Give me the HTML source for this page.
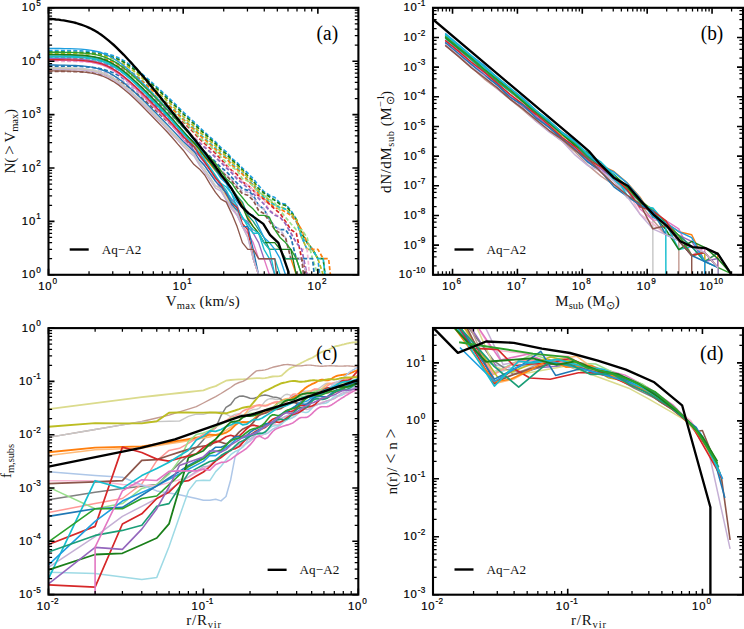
<!DOCTYPE html><html><head><meta charset="utf-8"><style>html,body{margin:0;padding:0;background:#fff;overflow:hidden}svg{display:block}.tk{font-family:"Liberation Sans",sans-serif;font-size:11.3px;letter-spacing:0.9px;fill:#000;stroke:#000;stroke-width:0.2px}.sup{font-size:8.2px;letter-spacing:0.2px}.lab{font-family:"Liberation Serif",serif;font-size:15px;fill:#111}.sub{font-size:10.5px}.pl{font-family:"Liberation Serif",serif;font-size:20.5px;fill:#000}.lg{font-family:"Liberation Serif",serif;font-size:13.2px;fill:#111}</style></head><body>
<svg width="744" height="629" viewBox="0 0 744 629">
<rect width="744" height="629" fill="#fff"/>
<defs>
<clipPath id="ca"><rect x="48.50" y="7.80" width="309.90" height="267.00"/></clipPath>
<clipPath id="cb"><rect x="433.00" y="7.80" width="310.00" height="267.00"/></clipPath>
<clipPath id="cc"><rect x="48.50" y="328.10" width="309.80" height="266.50"/></clipPath>
<clipPath id="cd"><rect x="433.00" y="328.00" width="310.00" height="266.70"/></clipPath>
</defs>
<g clip-path="url(#ca)">
<path d="M48.5 50.5L53.9 50.6L59.3 50.6L64.7 50.6L70.0 50.7L75.4 50.7L80.8 50.9L86.2 51.1L91.6 51.4L97.0 52.0L102.4 52.8L107.8 54.0L113.1 55.6L118.5 57.9L123.9 60.7L129.3 64.1L134.7 68.0L140.1 72.3L145.5 76.9L150.9 81.6L156.2 86.5L161.6 91.4L167.0 96.4L172.4 101.4L177.8 106.7L183.2 112.0L188.6 117.1L194.0 121.9L199.3 127.3L204.7 132.2L210.1 137.2L215.5 141.9L220.9 147.6L226.3 151.8L231.7 158.3L237.1 162.6L242.4 168.2L247.8 173.2L253.2 178.7L258.6 185.5L264.0 191.7L269.4 195.2L274.8 197.5L280.1 203.1L285.5 204.2L290.9 210.5L296.3 219.2L301.7 237.5L307.1 249.3L312.5 249.3L317.9 258.7L323.2 306.8" stroke="#1f9fe0" stroke-width="1.7" fill="none" stroke-dasharray="4,2.2" stroke-linejoin="round"/>
<path d="M48.5 52.1L53.9 52.2L59.3 52.2L64.7 52.2L70.0 52.3L75.4 52.3L80.8 52.5L86.2 52.7L91.6 53.0L97.0 53.6L102.4 54.4L107.8 55.6L113.1 57.2L118.5 59.5L123.9 62.3L129.3 65.8L134.7 69.7L140.1 74.0L145.5 78.6L150.9 83.3L156.2 88.2L161.6 93.2L167.0 98.2L172.4 103.3L177.8 108.5L183.2 114.0L188.6 119.1L194.0 123.8L199.3 129.3L204.7 133.9L210.1 139.0L215.5 143.6L220.9 149.6L226.3 154.0L231.7 160.0L237.1 164.4L242.4 169.9L247.8 175.9L253.2 181.0L258.6 188.7L264.0 193.0L269.4 196.7L274.8 200.2L280.1 204.2L285.5 205.3L290.9 212.0L296.3 219.2L301.7 233.2L307.1 242.6L312.5 249.3L317.9 258.7L323.2 258.7L328.6 306.8" stroke="#1a7f1a" stroke-width="1.7" fill="none" stroke-dasharray="4,2.2" stroke-linejoin="round"/>
<path d="M48.5 53.2L53.9 53.2L59.3 53.3L64.7 53.3L70.0 53.3L75.4 53.4L80.8 53.6L86.2 53.8L91.6 54.2L97.0 54.8L102.4 55.7L107.8 57.0L113.1 58.8L118.5 61.3L123.9 64.3L129.3 67.8L134.7 71.9L140.1 76.3L145.5 80.9L150.9 85.7L156.2 90.7L161.6 95.7L167.0 100.7L172.4 105.8L177.8 111.1L183.2 116.5L188.6 121.6L194.0 126.4L199.3 131.8L204.7 136.3L210.1 141.2L215.5 145.8L220.9 152.0L226.3 156.0L231.7 161.9L237.1 166.2L242.4 171.2L247.8 177.6L253.2 182.7L258.6 191.1L264.0 195.9L269.4 200.2L274.8 205.3L280.1 206.5L285.5 209.1L290.9 213.6L296.3 219.2L301.7 237.5L307.1 249.3L312.5 249.3L317.9 258.7L323.2 274.8L328.6 306.8" stroke="#bcbd22" stroke-width="1.7" fill="none" stroke-dasharray="4,2.2" stroke-linejoin="round"/>
<path d="M48.5 55.9L53.9 55.9L59.3 55.9L64.7 56.0L70.0 56.0L75.4 56.1L80.8 56.3L86.2 56.5L91.6 56.9L97.0 57.5L102.4 58.4L107.8 59.7L113.1 61.5L118.5 63.9L123.9 66.9L129.3 70.5L134.7 74.5L140.1 78.9L145.5 83.5L150.9 88.3L156.2 93.2L161.6 98.2L167.0 103.2L172.4 108.3L177.8 113.4L183.2 118.9L188.6 123.9L194.0 128.6L199.3 134.1L204.7 138.4L210.1 143.5L215.5 148.1L220.9 154.1L226.3 157.7L231.7 164.2L237.1 168.2L242.4 173.5L247.8 180.2L253.2 184.5L258.6 193.0L264.0 197.5L269.4 202.1L274.8 205.3L280.1 207.8L285.5 209.1L290.9 215.3L296.3 221.4L301.7 237.5L307.1 242.6L312.5 249.3L317.9 258.7L323.2 258.7L328.6 306.8" stroke="#17becf" stroke-width="1.7" fill="none" stroke-dasharray="4,2.2" stroke-linejoin="round"/>
<path d="M48.5 56.4L53.9 56.4L59.3 56.5L64.7 56.5L70.0 56.6L75.4 56.6L80.8 56.8L86.2 57.0L91.6 57.4L97.0 58.0L102.4 58.9L107.8 60.2L113.1 62.0L118.5 64.5L123.9 67.5L129.3 71.1L134.7 75.1L140.1 79.5L145.5 84.1L150.9 89.0L156.2 93.9L161.6 98.9L167.0 103.9L172.4 109.0L177.8 114.2L183.2 119.7L188.6 124.8L194.0 129.7L199.3 135.2L204.7 139.5L210.1 144.5L215.5 149.3L220.9 155.0L226.3 158.4L231.7 165.0L237.1 169.4L242.4 174.1L247.8 181.0L253.2 185.5L258.6 194.4L264.0 199.2L269.4 203.1L274.8 207.8L280.1 209.1L285.5 212.0L290.9 215.3L296.3 221.4L301.7 229.7L307.1 242.6L312.5 249.3L317.9 249.3L323.2 258.7L328.6 258.7L334.0 306.8" stroke="#ff7f0e" stroke-width="1.7" fill="none" stroke-dasharray="4,2.2" stroke-linejoin="round"/>
<path d="M48.5 58.0L53.9 58.0L59.3 58.1L64.7 58.1L70.0 58.2L75.4 58.3L80.8 58.5L86.2 58.7L91.6 59.2L97.0 59.8L102.4 60.8L107.8 62.2L113.1 64.2L118.5 66.8L123.9 69.9L129.3 73.6L134.7 77.8L140.1 82.2L145.5 86.9L150.9 91.8L156.2 96.7L161.6 101.7L167.0 106.8L172.4 111.9L177.8 117.3L183.2 122.1L188.6 127.4L194.0 132.7L199.3 138.7L204.7 143.7L210.1 148.4L215.5 153.4L220.9 159.1L226.3 165.4L231.7 170.4L237.1 174.4L242.4 181.9L247.8 185.0L253.2 190.4L258.6 195.9L264.0 199.2L269.4 204.2L274.8 209.1L280.1 213.6L285.5 221.4L290.9 229.7L296.3 233.2L301.7 258.7L307.1 274.8L312.5 306.8" stroke="#d62728" stroke-width="1.7" fill="none" stroke-dasharray="4,2.2" stroke-linejoin="round"/>
<path d="M48.5 59.1L53.9 59.1L59.3 59.1L64.7 59.2L70.0 59.2L75.4 59.3L80.8 59.5L86.2 59.8L91.6 60.2L97.0 60.8L102.4 61.8L107.8 63.2L113.1 65.1L118.5 67.5L123.9 70.6L129.3 74.2L134.7 78.2L140.1 82.5L145.5 87.0L150.9 91.7L156.2 96.5L161.6 101.4L167.0 106.2L172.4 111.2L177.8 116.4L183.2 121.0L188.6 126.1L194.0 131.1L199.3 137.3L204.7 142.0L210.1 145.8L215.5 151.2L220.9 157.0L226.3 162.3L231.7 167.1L237.1 170.4L242.4 178.7L247.8 181.0L253.2 186.5L258.6 192.3L264.0 195.2L269.4 199.2L274.8 203.1L280.1 210.5L285.5 217.2L290.9 223.8L296.3 229.7L301.7 229.7L307.1 237.5L312.5 258.7L317.9 274.8L323.2 306.8" stroke="#98df8a" stroke-width="1.7" fill="none" stroke-dasharray="4,2.2" stroke-linejoin="round"/>
<path d="M48.5 61.2L53.9 61.2L59.3 61.3L64.7 61.3L70.0 61.4L75.4 61.5L80.8 61.7L86.2 61.9L91.6 62.4L97.0 63.0L102.4 64.0L107.8 65.5L113.1 67.4L118.5 70.0L123.9 73.2L129.3 77.0L134.7 81.1L140.1 85.6L145.5 90.4L150.9 95.3L156.2 100.3L161.6 105.3L167.0 110.4L172.4 115.5L177.8 120.5L183.2 126.4L188.6 132.0L194.0 137.1L199.3 141.5L204.7 146.3L210.1 150.9L215.5 156.2L220.9 161.0L226.3 166.0L231.7 171.0L237.1 177.3L242.4 181.9L247.8 185.0L253.2 189.8L258.6 196.7L264.0 200.2L269.4 210.5L274.8 213.6L280.1 217.2L285.5 223.8L290.9 233.2L296.3 242.6L301.7 249.3L307.1 249.3L312.5 306.8" stroke="#f7b6d2" stroke-width="1.7" fill="none" stroke-dasharray="4,2.2" stroke-linejoin="round"/>
<path d="M48.5 60.2L53.9 60.2L59.3 60.2L64.7 60.3L70.0 60.3L75.4 60.5L80.8 60.7L86.2 61.0L91.6 61.5L97.0 62.2L102.4 63.3L107.8 64.9L113.1 67.1L118.5 69.8L123.9 73.2L129.3 77.1L134.7 81.4L140.1 86.1L145.5 90.9L150.9 95.9L156.2 101.0L161.6 106.1L167.0 111.3L172.4 116.5L177.8 121.5L183.2 127.4L188.6 133.0L194.0 138.2L199.3 142.7L204.7 147.5L210.1 152.0L215.5 157.5L220.9 162.5L226.3 167.8L231.7 172.9L237.1 179.1L242.4 183.2L247.8 188.1L253.2 193.7L258.6 198.4L264.0 204.2L269.4 210.5L274.8 215.3L280.1 217.2L285.5 223.8L290.9 233.2L296.3 242.6L301.7 249.3L307.1 274.8L312.5 306.8" stroke="#9467bd" stroke-width="1.7" fill="none" stroke-dasharray="4,2.2" stroke-linejoin="round"/>
<path d="M48.5 66.0L53.9 66.1L59.3 66.1L64.7 66.1L70.0 66.2L75.4 66.3L80.8 66.5L86.2 66.8L91.6 67.3L97.0 68.0L102.4 69.1L107.8 70.7L113.1 72.8L118.5 75.5L123.9 78.8L129.3 82.6L134.7 86.8L140.1 91.3L145.5 96.0L150.9 100.9L156.2 105.8L161.6 110.8L167.0 115.9L172.4 121.0L177.8 125.8L183.2 131.9L188.6 137.8L194.0 142.8L199.3 147.4L204.7 151.9L210.1 156.5L215.5 161.9L220.9 167.3L226.3 171.5L231.7 177.3L237.1 183.2L242.4 188.7L247.8 190.4L253.2 195.2L258.6 205.3L264.0 209.1L269.4 219.2L274.8 226.6L280.1 229.7L285.5 229.7L290.9 237.5L296.3 258.7L301.7 258.7L307.1 258.7L312.5 258.7L317.9 306.8" stroke="#1f77b4" stroke-width="1.7" fill="none" stroke-dasharray="4,2.2" stroke-linejoin="round"/>
<path d="M48.5 68.7L53.9 68.7L59.3 68.8L64.7 68.8L70.0 68.9L75.4 69.0L80.8 69.2L86.2 69.5L91.6 70.0L97.0 70.7L102.4 71.8L107.8 73.3L113.1 75.5L118.5 78.2L123.9 81.5L129.3 85.3L134.7 89.5L140.1 94.1L145.5 98.8L150.9 103.7L156.2 108.7L161.6 113.7L167.0 118.8L172.4 123.9L177.8 128.8L183.2 134.9L188.6 140.8L194.0 145.6L199.3 150.4L204.7 155.0L210.1 159.5L215.5 165.0L220.9 169.9L226.3 175.3L231.7 179.8L237.1 186.0L242.4 191.1L247.8 192.3L253.2 197.5L258.6 205.3L264.0 209.1L269.4 219.2L274.8 226.6L280.1 229.7L285.5 237.5L290.9 258.7L296.3 258.7L301.7 258.7L307.1 274.8L312.5 306.8" stroke="#c5b0d5" stroke-width="1.7" fill="none" stroke-dasharray="4,2.2" stroke-linejoin="round"/>
<path d="M48.5 71.4L53.9 71.4L59.3 71.4L64.7 71.5L70.0 71.5L75.4 71.7L80.8 71.9L86.2 72.2L91.6 72.6L97.0 73.4L102.4 74.4L107.8 76.0L113.1 78.1L118.5 80.8L123.9 84.0L129.3 87.8L134.7 92.0L140.1 96.5L145.5 101.2L150.9 106.1L156.2 111.0L161.6 116.0L167.0 121.0L172.4 126.1L177.8 131.1L183.2 137.1L188.6 143.1L194.0 147.9L199.3 152.0L204.7 156.4L210.1 160.7L215.5 165.4L220.9 171.5L226.3 175.6L231.7 181.0L237.1 187.6L242.4 193.7L247.8 195.2L253.2 200.2L258.6 210.5L264.0 213.6L269.4 221.4L274.8 229.7L280.1 233.2L285.5 237.5L290.9 258.7L296.3 258.7L301.7 258.7L307.1 306.8" stroke="#8c564b" stroke-width="1.7" fill="none" stroke-dasharray="4,2.2" stroke-linejoin="round"/>
<path d="M48.5 68.2L53.9 68.2L59.3 68.3L64.7 68.4L70.0 68.5L75.4 68.7L80.8 69.0L86.2 69.5L91.6 70.3L97.0 71.5L102.4 73.2L107.8 75.4L113.1 78.4L118.5 81.9L123.9 86.0L129.3 90.6L134.7 95.4L140.1 100.5L145.5 105.8L150.9 111.1L156.2 116.5L161.6 122.0L167.0 127.5L172.4 133.2L177.8 138.7L183.2 144.4L188.6 149.2L194.0 154.2L199.3 163.0L204.7 169.7L210.1 177.6L215.5 186.0L220.9 189.2L226.3 195.9L231.7 206.5L237.1 210.5L242.4 226.6L247.8 233.2L253.2 258.7L258.6 274.8L264.0 274.8L269.4 274.8L274.8 306.8" stroke="#dbdb8d" stroke-width="1.35" fill="none" stroke-linejoin="round"/>
<path d="M48.5 58.6L53.9 58.6L59.3 58.7L64.7 58.7L70.0 58.9L75.4 59.1L80.8 59.4L86.2 59.9L91.6 60.7L97.0 61.9L102.4 63.6L107.8 65.9L113.1 68.8L118.5 72.4L123.9 76.5L129.3 81.1L134.7 86.0L140.1 91.2L145.5 96.5L150.9 101.8L156.2 107.3L161.6 112.8L167.0 118.3L172.4 124.1L177.8 130.3L183.2 136.5L188.6 142.4L194.0 150.7L199.3 156.0L204.7 162.8L210.1 169.2L215.5 176.3L220.9 186.5L226.3 192.3L231.7 199.2L237.1 205.3L242.4 219.2L247.8 221.4L253.2 233.2L258.6 242.6L264.0 258.7L269.4 258.7L274.8 274.8L280.1 274.8L285.5 274.8L290.9 274.8L296.3 274.8L301.7 274.8L307.1 306.8" stroke="#9467bd" stroke-width="1.35" fill="none" stroke-linejoin="round"/>
<path d="M48.5 55.9L53.9 55.9L59.3 56.0L64.7 56.1L70.0 56.2L75.4 56.4L80.8 56.7L86.2 57.1L91.6 57.9L97.0 58.9L102.4 60.5L107.8 62.6L113.1 65.4L118.5 68.9L123.9 72.9L129.3 77.4L134.7 82.3L140.1 87.4L145.5 92.7L150.9 98.1L156.2 103.6L161.6 109.1L167.0 114.7L172.4 120.4L177.8 126.8L183.2 132.6L188.6 138.4L194.0 143.9L199.3 149.8L204.7 157.4L210.1 164.2L215.5 170.7L220.9 176.6L226.3 181.9L231.7 189.2L237.1 196.7L242.4 204.2L247.8 217.2L253.2 226.6L258.6 233.2L264.0 242.6L269.4 249.3L274.8 249.3L280.1 249.3L285.5 258.7L290.9 258.7L296.3 274.8L301.7 306.8" stroke="#ff7f0e" stroke-width="1.35" fill="none" stroke-linejoin="round"/>
<path d="M48.5 60.2L53.9 60.2L59.3 60.3L64.7 60.4L70.0 60.5L75.4 60.7L80.8 61.0L86.2 61.6L91.6 62.4L97.0 63.5L102.4 65.2L107.8 67.5L113.1 70.5L118.5 74.1L123.9 78.3L129.3 82.9L134.7 87.9L140.1 93.0L145.5 98.4L150.9 103.8L156.2 109.3L161.6 114.8L167.0 120.4L172.4 126.3L177.8 132.6L183.2 139.1L188.6 145.1L194.0 153.6L199.3 159.5L204.7 165.4L210.1 173.5L215.5 180.2L220.9 189.8L226.3 200.2L231.7 206.5L237.1 215.3L242.4 226.6L247.8 233.2L253.2 242.6L258.6 258.7L264.0 258.7L269.4 274.8L274.8 274.8L280.1 274.8L285.5 274.8L290.9 274.8L296.3 274.8L301.7 306.8" stroke="#e377c2" stroke-width="1.35" fill="none" stroke-linejoin="round"/>
<path d="M48.5 54.8L53.9 54.9L59.3 54.9L64.7 55.0L70.0 55.1L75.4 55.3L80.8 55.6L86.2 56.1L91.6 56.8L97.0 57.9L102.4 59.4L107.8 61.6L113.1 64.4L118.5 67.8L123.9 71.9L129.3 76.4L134.7 81.2L140.1 86.4L145.5 91.7L150.9 97.1L156.2 102.6L161.6 108.1L167.0 113.7L172.4 119.4L177.8 125.6L183.2 131.6L188.6 137.2L194.0 142.8L199.3 148.1L204.7 155.4L210.1 161.9L215.5 168.5L220.9 174.4L226.3 179.8L231.7 188.7L237.1 195.9L242.4 202.1L247.8 215.3L253.2 221.4L258.6 229.7L264.0 237.5L269.4 249.3L274.8 249.3L280.1 249.3L285.5 258.7L290.9 258.7L296.3 258.7L301.7 274.8L307.1 306.8" stroke="#1b9e77" stroke-width="1.35" fill="none" stroke-linejoin="round"/>
<path d="M48.5 48.4L53.9 48.5L59.3 48.5L64.7 48.6L70.0 48.7L75.4 48.9L80.8 49.2L86.2 49.7L91.6 50.4L97.0 51.5L102.4 53.1L107.8 55.3L113.1 58.2L118.5 61.7L123.9 65.8L129.3 70.5L134.7 75.4L140.1 80.7L145.5 86.1L150.9 91.6L156.2 97.2L161.6 102.9L167.0 108.6L172.4 114.6L177.8 120.9L183.2 127.3L188.6 133.3L194.0 140.1L199.3 146.9L204.7 154.6L210.1 161.6L215.5 170.2L220.9 178.3L226.3 183.6L231.7 193.7L237.1 202.1L242.4 207.8L247.8 213.6L253.2 215.3L258.6 226.6L264.0 237.5L269.4 242.6L274.8 249.3L280.1 258.7L285.5 274.8L290.9 274.8L296.3 274.8L301.7 306.8" stroke="#1f9fe0" stroke-width="1.35" fill="none" stroke-linejoin="round"/>
<path d="M48.5 52.2L53.9 52.2L59.3 52.2L64.7 52.3L70.0 52.4L75.4 52.6L80.8 52.8L86.2 53.3L91.6 53.9L97.0 54.9L102.4 56.3L107.8 58.3L113.1 60.9L118.5 64.2L123.9 68.1L129.3 72.5L134.7 77.3L140.1 82.4L145.5 87.7L150.9 93.0L156.2 98.5L161.6 104.0L167.0 109.6L172.4 115.3L177.8 121.2L183.2 127.0L188.6 133.0L194.0 138.7L199.3 145.1L204.7 151.7L210.1 157.4L215.5 163.2L220.9 170.7L226.3 178.7L231.7 183.2L237.1 191.1L242.4 197.5L247.8 204.2L253.2 209.1L258.6 215.3L264.0 215.3L269.4 217.2L274.8 229.7L280.1 237.5L285.5 242.6L290.9 249.3L296.3 258.7L301.7 274.8L307.1 274.8L312.5 274.8L317.9 274.8L323.2 306.8" stroke="#2ca02c" stroke-width="1.35" fill="none" stroke-linejoin="round"/>
<path d="M48.5 54.3L53.9 54.3L59.3 54.4L64.7 54.5L70.0 54.6L75.4 54.8L80.8 55.1L86.2 55.5L91.6 56.3L97.0 57.3L102.4 58.9L107.8 61.0L113.1 63.8L118.5 67.3L123.9 71.3L129.3 75.8L134.7 80.7L140.1 85.8L145.5 91.1L150.9 96.5L156.2 102.0L161.6 107.5L167.0 113.1L172.4 118.9L177.8 125.3L183.2 131.2L188.6 137.2L194.0 142.8L199.3 149.0L204.7 156.4L210.1 162.5L215.5 169.4L220.9 175.9L226.3 180.2L231.7 189.2L237.1 198.4L242.4 206.5L247.8 219.2L253.2 226.6L258.6 233.2L264.0 242.6L269.4 242.6L274.8 242.6L280.1 249.3L285.5 249.3L290.9 249.3L296.3 274.8L301.7 306.8" stroke="#1a7f1a" stroke-width="1.35" fill="none" stroke-linejoin="round"/>
<path d="M48.5 56.2L53.9 56.2L59.3 56.2L64.7 56.3L70.0 56.4L75.4 56.6L80.8 56.9L86.2 57.4L91.6 58.1L97.0 59.2L102.4 60.8L107.8 62.9L113.1 65.8L118.5 69.2L123.9 73.3L129.3 77.9L134.7 82.8L140.1 87.9L145.5 93.3L150.9 98.7L156.2 104.2L161.6 109.8L167.0 115.5L172.4 121.3L177.8 127.6L183.2 133.7L188.6 139.8L194.0 146.1L199.3 152.6L204.7 160.7L210.1 167.5L215.5 175.3L220.9 183.6L226.3 190.4L231.7 201.1L237.1 207.8L242.4 217.2L247.8 223.8L253.2 229.7L258.6 233.2L264.0 249.3L269.4 258.7L274.8 258.7L280.1 274.8L285.5 274.8L290.9 306.8" stroke="#17becf" stroke-width="1.35" fill="none" stroke-linejoin="round"/>
<path d="M48.5 57.0L53.9 57.0L59.3 57.0L64.7 57.1L70.0 57.2L75.4 57.4L80.8 57.7L86.2 58.2L91.6 58.9L97.0 60.0L102.4 61.5L107.8 63.6L113.1 66.4L118.5 69.8L123.9 73.9L129.3 78.3L134.7 83.2L140.1 88.3L145.5 93.5L150.9 98.9L156.2 104.3L161.6 109.8L167.0 115.4L172.4 121.2L177.8 127.3L183.2 133.2L188.6 139.9L194.0 147.0L199.3 152.8L204.7 159.5L210.1 168.5L215.5 176.9L220.9 183.2L226.3 187.0L231.7 193.7L237.1 207.8L242.4 217.2L247.8 226.6L253.2 233.2L258.6 233.2L264.0 242.6L269.4 249.3L274.8 274.8L280.1 306.8" stroke="#17becf" stroke-width="1.35" fill="none" stroke-linejoin="round"/>
<path d="M48.5 59.6L53.9 59.7L59.3 59.7L64.7 59.8L70.0 59.9L75.4 60.1L80.8 60.4L86.2 60.9L91.6 61.6L97.0 62.7L102.4 64.2L107.8 66.4L113.1 69.2L118.5 72.6L123.9 76.7L129.3 81.2L134.7 86.1L140.1 91.2L145.5 96.5L150.9 101.9L156.2 107.4L161.6 112.9L167.0 118.5L172.4 124.2L177.8 130.3L183.2 136.2L188.6 141.8L194.0 146.6L199.3 155.0L204.7 162.1L210.1 170.2L215.5 178.0L220.9 184.1L226.3 194.4L231.7 203.1L237.1 207.8L242.4 223.8L247.8 229.7L253.2 258.7L258.6 274.8L264.0 274.8L269.4 274.8L274.8 306.8" stroke="#d62728" stroke-width="1.35" fill="none" stroke-linejoin="round"/>
<path d="M48.5 65.0L53.9 65.0L59.3 65.1L64.7 65.2L70.0 65.3L75.4 65.5L80.8 65.8L86.2 66.3L91.6 67.1L97.0 68.3L102.4 70.0L107.8 72.2L113.1 75.1L118.5 78.7L123.9 82.8L129.3 87.4L134.7 92.2L140.1 97.3L145.5 102.6L150.9 107.9L156.2 113.3L161.6 118.8L167.0 124.3L172.4 129.9L177.8 135.7L183.2 141.5L188.6 146.5L194.0 151.4L199.3 160.0L204.7 165.8L210.1 173.5L215.5 181.4L220.9 187.0L226.3 193.0L231.7 204.2L237.1 210.5L242.4 226.6L247.8 226.6L253.2 249.3L258.6 274.8L264.0 274.8L269.4 274.8L274.8 306.8" stroke="#1f77b4" stroke-width="1.35" fill="none" stroke-linejoin="round"/>
<path d="M48.5 67.7L53.9 67.7L59.3 67.7L64.7 67.8L70.0 68.0L75.4 68.2L80.8 68.5L86.2 69.0L91.6 69.8L97.0 70.9L102.4 72.6L107.8 74.8L113.1 77.7L118.5 81.3L123.9 85.3L129.3 89.9L134.7 94.7L140.1 99.7L145.5 104.9L150.9 110.2L156.2 115.6L161.6 121.0L167.0 126.5L172.4 132.1L177.8 137.8L183.2 143.5L188.6 148.6L194.0 153.4L199.3 162.5L204.7 169.4L210.1 177.3L215.5 185.5L220.9 188.7L226.3 199.2L231.7 207.8L237.1 212.0L242.4 226.6L247.8 237.5L253.2 258.7L258.6 274.8L264.0 274.8L269.4 306.8" stroke="#c7c7c7" stroke-width="1.35" fill="none" stroke-linejoin="round"/>
<path d="M48.5 69.3L53.9 69.3L59.3 69.3L64.7 69.4L70.0 69.6L75.4 69.8L80.8 70.1L86.2 70.6L91.6 71.4L97.0 72.6L102.4 74.3L107.8 76.6L113.1 79.5L118.5 83.1L123.9 87.2L129.3 91.8L134.7 96.7L140.1 101.9L145.5 107.1L150.9 112.5L156.2 118.0L161.6 123.5L167.0 129.0L172.4 134.8L177.8 140.4L183.2 146.3L188.6 151.4L194.0 156.2L199.3 165.0L204.7 172.3L210.1 180.2L215.5 188.1L220.9 191.1L226.3 200.2L231.7 209.1L237.1 215.3L242.4 226.6L247.8 237.5L253.2 258.7L258.6 274.8L264.0 274.8L269.4 306.8" stroke="#c5b0d5" stroke-width="1.35" fill="none" stroke-linejoin="round"/>
<path d="M48.5 70.9L53.9 70.9L59.3 71.0L64.7 71.0L70.0 71.2L75.4 71.4L80.8 71.7L86.2 72.3L91.6 73.1L97.0 74.3L102.4 76.0L107.8 78.3L113.1 81.3L118.5 84.9L123.9 89.2L129.3 93.8L134.7 98.8L140.1 104.1L145.5 109.5L150.9 115.0L156.2 120.5L161.6 126.1L167.0 131.8L172.4 137.7L177.8 144.1L183.2 150.2L188.6 157.7L194.0 164.6L199.3 168.9L204.7 175.0L210.1 184.1L215.5 192.3L220.9 199.2L226.3 202.1L231.7 213.6L237.1 226.6L242.4 242.6L247.8 249.3L253.2 249.3L258.6 258.7L264.0 258.7L269.4 258.7L274.8 258.7L280.1 306.8" stroke="#8c564b" stroke-width="1.35" fill="none" stroke-linejoin="round"/>
<path d="M48.5 18.8L51.0 19.0L53.5 19.2L56.0 19.5L58.5 19.7L61.1 20.1L63.6 20.4L66.1 20.8L68.6 21.3L71.1 21.8L73.6 22.4L76.1 23.0L78.6 23.8L81.1 24.6L83.6 25.5L86.2 26.5L88.7 27.6L91.2 28.8L93.7 30.1L96.2 31.6L98.7 33.1L101.2 34.8L103.7 36.6L106.2 38.6L108.7 40.6L111.3 42.8L113.8 45.0L116.3 47.3L118.8 49.8L121.3 52.3L123.8 54.8L126.3 57.5L128.8 60.2L131.3 62.9L133.8 65.7L136.4 68.6L138.9 71.5L141.4 74.4L143.9 77.3L146.4 80.3L148.9 83.4L151.4 86.4L153.9 89.5L156.4 92.5L158.9 95.6L161.5 98.7L164.0 101.9L166.5 105.0L169.0 108.1L171.5 111.2L174.0 114.3L176.5 117.4L179.0 120.5L181.5 123.6L184.0 126.7L186.6 129.7L189.1 132.8L191.6 135.9L194.1 139.0L196.6 142.1L199.1 145.3L201.6 148.4L204.1 151.6L206.6 154.9L209.1 158.2L211.7 161.5L214.2 164.9L216.7 168.4L219.2 171.9L221.7 175.6L231.7 188.8L241.6 206.3L248.4 213.1L263.3 223.9L270.0 234.8L278.4 242.8L288.5 271.8L289.0 290.8" stroke="#000" stroke-width="2.35" fill="none" stroke-linejoin="round"/>
</g>
<g clip-path="url(#cb)">
<path d="M445.2 36.9L458.2 47.4L471.2 58.7L484.1 69.1L497.1 79.3L510.1 91.0L523.1 100.9L536.0 111.9L549.0 122.7L562.0 134.1L575.0 142.3L587.9 154.1L600.9 163.3L613.9 177.9L626.9 197.5L639.8 203.5L652.8 212.7L665.8 8878.1" stroke="#c7c7c7" stroke-width="1.45" fill="none" stroke-linejoin="round"/>
<path d="M445.2 40.5L458.2 51.2L471.2 62.8L484.1 72.1L497.1 84.6L510.1 95.0L523.1 104.8L536.0 117.2L549.0 128.0L562.0 138.8L575.0 147.9L587.9 161.9L600.9 172.5L613.9 177.9L626.9 188.6L639.8 213.9L652.8 223.6L665.8 234.7L678.8 235.4L691.7 246.6L704.7 252.5L717.7 267.4L730.7 8878.1" stroke="#f7b6d2" stroke-width="1.45" fill="none" stroke-linejoin="round"/>
<path d="M445.2 45.2L458.2 56.3L471.2 67.1L484.1 78.8L497.1 88.7L510.1 99.4L523.1 109.9L536.0 121.2L549.0 131.3L562.0 141.3L575.0 151.7L587.9 165.1L600.9 176.1L613.9 185.0L626.9 195.0L639.8 203.5L652.8 219.9L665.8 234.7L678.8 235.4L691.7 8878.1" stroke="#c49c94" stroke-width="1.45" fill="none" stroke-linejoin="round"/>
<path d="M445.2 35.2L458.2 45.8L471.2 57.1L484.1 66.6L497.1 78.6L510.1 88.9L523.1 98.9L536.0 110.7L549.0 121.4L562.0 132.2L575.0 141.2L587.9 154.7L600.9 165.2L613.9 171.5L626.9 182.5L639.8 196.9L652.8 217.0L665.8 222.9L678.8 231.7L691.7 234.8L704.7 261.5L717.7 253.2L730.7 8878.1" stroke="#ff7f0e" stroke-width="1.45" fill="none" stroke-linejoin="round"/>
<path d="M445.2 40.5L458.2 51.1L471.2 62.5L484.1 71.8L497.1 84.1L510.1 94.3L523.1 104.1L536.0 116.3L549.0 127.0L562.0 137.7L575.0 146.7L587.9 160.5L600.9 171.1L613.9 176.5L626.9 187.3L639.8 208.7L652.8 219.9L665.8 220.6L678.8 228.9L691.7 255.5L704.7 247.3L717.7 8878.1" stroke="#e377c2" stroke-width="1.45" fill="none" stroke-linejoin="round"/>
<path d="M445.2 42.8L458.2 53.2L471.2 64.3L484.1 74.2L497.1 85.3L510.1 96.6L523.1 106.7L536.0 116.2L549.0 126.9L562.0 139.4L575.0 148.7L587.9 161.2L600.9 168.9L613.9 178.5L626.9 191.0L639.8 200.9L652.8 212.7L665.8 222.9L678.8 235.4L691.7 241.4L704.7 261.5L717.7 258.5L730.7 8878.1" stroke="#9467bd" stroke-width="1.45" fill="none" stroke-linejoin="round"/>
<path d="M445.2 36.9L458.2 47.5L471.2 58.8L484.1 69.0L497.1 80.3L510.1 91.7L523.1 102.1L536.0 112.0L549.0 122.9L562.0 135.4L575.0 144.0L587.9 157.7L600.9 165.8L613.9 175.7L626.9 188.6L639.8 200.9L652.8 209.4L665.8 222.9L678.8 235.4L691.7 255.5L704.7 252.5L717.7 8878.1" stroke="#bcbd22" stroke-width="1.45" fill="none" stroke-linejoin="round"/>
<path d="M445.2 34.8L458.2 46.0L471.2 56.8L484.1 67.9L497.1 77.9L510.1 90.3L523.1 98.8L536.0 111.2L549.0 121.2L562.0 132.6L575.0 141.2L587.9 156.0L600.9 165.8L613.9 180.1L626.9 190.1L639.8 206.7L652.8 208.1L665.8 222.9L678.8 249.6L691.7 246.6L704.7 261.5L717.7 267.4L730.7 8878.1" stroke="#17becf" stroke-width="1.45" fill="none" stroke-linejoin="round"/>
<path d="M445.2 38.2L458.2 49.0L471.2 59.6L484.1 71.3L497.1 81.6L510.1 91.4L523.1 101.8L536.0 113.9L549.0 123.3L562.0 134.0L575.0 144.7L587.9 157.4L600.9 166.1L613.9 175.3L626.9 187.3L639.8 200.9L652.8 212.7L665.8 225.8L678.8 235.4L691.7 246.6L704.7 261.5L717.7 253.2L730.7 273.3" stroke="#1b9e77" stroke-width="1.45" fill="none" stroke-linejoin="round"/>
<path d="M445.2 37.1L458.2 47.9L471.2 57.8L484.1 69.3L497.1 79.8L510.1 89.7L523.1 101.8L536.0 112.4L549.0 122.4L562.0 133.7L575.0 145.6L587.9 152.6L600.9 165.8L613.9 175.3L626.9 186.6L639.8 202.1L652.8 214.6L665.8 229.5L678.8 249.6L691.7 241.4L704.7 247.3L717.7 258.5L730.7 273.3" stroke="#1a7f1a" stroke-width="1.45" fill="none" stroke-linejoin="round"/>
<path d="M445.2 36.4L458.2 47.3L471.2 57.9L484.1 69.7L497.1 80.0L510.1 90.0L523.1 100.4L536.0 112.5L549.0 122.0L562.0 132.8L575.0 143.5L587.9 156.2L600.9 165.2L613.9 174.5L626.9 186.6L639.8 199.8L652.8 210.9L665.8 222.9L678.8 235.4L691.7 255.5L704.7 252.5L717.7 267.4L730.7 273.3" stroke="#2ca02c" stroke-width="1.45" fill="none" stroke-linejoin="round"/>
<path d="M445.2 33.4L458.2 44.2L471.2 55.6L484.1 65.4L497.1 77.5L510.1 88.0L523.1 98.2L536.0 110.2L549.0 121.1L562.0 132.0L575.0 141.2L587.9 154.9L600.9 165.5L613.9 172.1L626.9 182.9L639.8 197.8L652.8 217.0L665.8 222.9L678.8 231.7L691.7 237.7L704.7 261.5L717.7 8878.1" stroke="#1f9fe0" stroke-width="1.45" fill="none" stroke-linejoin="round"/>
<path d="M445.2 34.2L458.2 44.9L471.2 55.8L484.1 67.2L497.1 77.0L510.1 88.0L523.1 99.2L536.0 110.5L549.0 120.2L562.0 132.8L575.0 142.1L587.9 153.9L600.9 161.9L613.9 174.9L626.9 195.0L639.8 205.0L652.8 208.1L665.8 225.8L678.8 8878.1" stroke="#17becf" stroke-width="1.45" fill="none" stroke-linejoin="round"/>
<path d="M445.2 40.4L458.2 50.9L471.2 62.0L484.1 72.0L497.1 83.1L510.1 94.5L523.1 104.6L536.0 114.3L549.0 125.1L562.0 137.4L575.0 146.8L587.9 159.3L600.9 167.1L613.9 177.0L626.9 189.4L639.8 206.7L652.8 210.9L665.8 220.6L678.8 240.7L691.7 255.5L704.7 252.5L717.7 267.4L730.7 8878.1" stroke="#d62728" stroke-width="1.45" fill="none" stroke-linejoin="round"/>
<path d="M445.2 42.4L458.2 53.6L471.2 64.3L484.1 75.2L497.1 84.8L510.1 97.4L523.1 105.1L536.0 117.9L549.0 127.4L562.0 138.7L575.0 149.4L587.9 162.2L600.9 171.5L613.9 186.9L626.9 196.2L639.8 205.0L652.8 210.9L665.8 234.7L678.8 240.7L691.7 255.5L704.7 261.5L717.7 267.4L730.7 8878.1" stroke="#1f77b4" stroke-width="1.45" fill="none" stroke-linejoin="round"/>
<path d="M445.2 44.4L458.2 55.1L471.2 66.8L484.1 75.9L497.1 88.6L510.1 98.9L523.1 108.6L536.0 121.2L549.0 132.0L562.0 140.9L575.0 154.9L587.9 165.6L600.9 171.1L613.9 181.3L626.9 196.2L639.8 213.9L652.8 228.8L665.8 234.7L678.8 240.7L691.7 246.6L704.7 252.5L717.7 267.4L730.7 8878.1" stroke="#c5b0d5" stroke-width="1.45" fill="none" stroke-linejoin="round"/>
<path d="M445.2 45.4L458.2 56.1L471.2 67.6L484.1 77.5L497.1 87.6L510.1 99.1L523.1 108.9L536.0 119.6L549.0 130.3L562.0 139.4L575.0 150.3L587.9 158.7L600.9 172.0L613.9 184.2L626.9 195.0L639.8 203.5L652.8 228.8L665.8 225.8L678.8 240.7L691.7 255.5L704.7 8878.1" stroke="#8c564b" stroke-width="1.45" fill="none" stroke-linejoin="round"/>
<path d="M433.0 19.5L577.0 140.9L588.8 151.1L599.9 163.9L613.4 177.4L628.0 186.1L640.5 200.6L654.1 215.2L666.7 225.8L680.3 241.3L692.8 247.1L705.4 248.1L717.9 253.9L730.5 273.2L731.5 280.7" stroke="#000" stroke-width="2.35" fill="none" stroke-linejoin="round"/>
</g>
<g clip-path="url(#cc)">
<path d="M48.5 409.1L95.1 403.1L122.4 399.6L141.8 397.2L156.8 395.5L169.0 394.2L179.4 393.0L188.4 392.0L196.3 391.2L203.4 390.4L209.8 387.8L215.7 386.1L221.0 383.3L226.0 380.7L230.7 380.0L235.0 379.6L239.1 379.3L242.9 379.3L246.6 379.0L250.0 378.6L253.3 378.3L256.4 378.2L259.4 378.2L262.3 378.3L265.0 378.1L267.7 377.6L270.2 377.0L272.7 376.5L275.0 376.3L277.3 376.3L279.5 376.1L281.6 375.7L283.7 373.7L285.7 371.8L287.7 370.1L289.6 368.6L291.4 367.7L293.2 367.0L295.0 366.2L296.7 365.4L298.3 364.5L299.9 363.7L301.5 362.8L303.1 362.0L304.6 361.2L306.1 360.5L307.5 359.8L308.9 359.2L310.3 358.6L311.7 358.0L313.0 357.4L314.3 356.6L315.6 355.8L316.8 354.9L318.1 354.1L319.3 353.3L320.5 352.6L321.7 352.0L322.8 351.6L323.9 351.1L325.0 350.8L326.1 350.4L327.2 350.1L328.3 349.7L329.3 349.3L330.3 348.8L331.4 348.3L332.4 347.9L333.3 347.4L334.3 346.9L335.3 346.4L336.2 346.2L337.1 346.0L338.0 345.8L338.9 345.6L339.8 345.4L340.7 345.2L341.6 344.9L342.4 344.7L343.3 344.5L344.1 344.3L344.9 344.0L345.8 343.8L346.6 343.6L347.4 343.4L348.2 343.3L348.9 343.1L349.7 342.9L350.5 342.8L351.2 342.7L352.0 342.6L352.7 342.5L353.4 342.4L354.1 342.4L354.8 342.3L355.6 342.2L356.3 342.1L356.9 342.1L357.6 342.0L358.3 341.9" stroke="#dbdb8d" stroke-width="1.8" fill="none" stroke-linejoin="round"/>
<path d="M48.5 437.4L95.1 429.5L122.4 424.9L141.8 421.5L156.8 418.0L169.0 415.1L179.4 411.9L188.4 409.1L196.3 406.7L203.4 403.0L209.8 399.6L215.7 396.6L221.0 393.5L226.0 390.4L230.7 387.5L235.0 384.4L239.1 382.5L242.9 381.4L246.6 379.3L250.0 376.3L253.3 373.4L256.4 370.9L259.4 370.5L262.3 370.3L265.0 369.9L267.7 369.1L270.2 368.1L272.7 367.3L275.0 366.8L277.3 366.3L279.5 365.8L281.6 365.2L283.7 364.8L285.7 364.6L287.7 364.5L289.6 364.7L291.4 364.9L293.2 365.2L295.0 365.5L296.7 365.8L298.3 365.9L299.9 365.9L301.5 365.8L303.1 365.6L304.6 365.4L306.1 365.2L307.5 365.1L308.9 365.1L310.3 365.1L311.7 365.3L313.0 365.4L314.3 365.6L315.6 365.8L316.8 365.9L318.1 366.0L319.3 366.1L320.5 366.2L321.7 366.2L322.8 366.2L323.9 366.1L325.0 366.0L326.1 366.0L327.2 365.9L328.3 365.9L329.3 365.8L330.3 365.8L331.4 365.8L332.4 365.9L333.3 365.9L334.3 365.9L335.3 366.0L336.2 366.0L337.1 366.0L338.0 366.1L338.9 366.1L339.8 366.1L340.7 366.1L341.6 366.1L342.4 366.1L343.3 366.1L344.1 366.0L344.9 366.0L345.8 366.0L346.6 365.9L347.4 365.9L348.2 365.9L348.9 366.0L349.7 366.0L350.5 366.1L351.2 366.1L352.0 366.2L352.7 366.3L353.4 366.4L354.1 366.5L354.8 366.5L355.6 366.6L356.3 366.7L356.9 366.7L357.6 366.7L358.3 366.7" stroke="#c49c94" stroke-width="1.4" fill="none" stroke-linejoin="round"/>
<path d="M48.5 437.4L95.1 429.5L122.4 424.9L141.8 421.9L156.8 421.6L169.0 421.3L179.4 421.1L188.4 416.4L196.3 414.2L203.4 414.3L209.8 412.5L215.7 412.8L221.0 411.7L226.0 414.0L230.7 416.7L235.0 414.4L239.1 413.6L242.9 415.0L246.6 414.0L250.0 410.8L253.3 409.5L256.4 409.5L259.4 408.2L262.3 404.9L265.0 401.4L267.7 399.4L270.2 398.7L272.7 398.8L275.0 399.3L277.3 399.6L279.5 399.1L281.6 397.5L283.7 395.7L285.7 394.5L287.7 394.3L289.6 394.9L291.4 395.6L293.2 396.0L295.0 395.8L296.7 395.0L298.3 394.0L299.9 393.1L301.5 392.3L303.1 391.7L304.6 391.3L306.1 391.1L307.5 391.0L308.9 391.0L310.3 391.0L311.7 391.0L313.0 390.9L314.3 390.6L315.6 390.2L316.8 389.6L318.1 388.9L319.3 388.1L320.5 387.3L321.7 386.4L322.8 385.5L323.9 384.7L325.0 384.0L326.1 383.5L327.2 383.2L328.3 383.2L329.3 383.3L330.3 383.7L331.4 384.0L332.4 384.4L333.3 384.6L334.3 384.7L335.3 384.6L336.2 384.3L337.1 383.8L338.0 383.2L338.9 382.5L339.8 381.9L340.7 381.3L341.6 380.9L342.4 380.5L343.3 380.3L344.1 380.2L344.9 380.2L345.8 380.2L346.6 380.2L347.4 380.1L348.2 380.0L348.9 379.9L349.7 379.6L350.5 379.3L351.2 379.0L352.0 378.6L352.7 378.1L353.4 377.7L354.1 377.3L354.8 376.9L355.6 376.5L356.3 376.2L356.9 375.8L357.6 375.6L358.3 375.4" stroke="#c7c7c7" stroke-width="1.4" fill="none" stroke-linejoin="round"/>
<path d="M48.5 499.7L95.1 492.3L122.4 488.4L141.8 486.2L156.8 484.5L169.0 473.1L179.4 463.4L188.4 455.1L196.3 447.7L203.4 439.7L209.8 431.7L215.7 427.7L221.0 415.6L226.0 407.3L230.7 404.5L235.0 398.6L239.1 396.3L242.9 396.0L246.6 397.0L250.0 398.3L253.3 398.4L256.4 397.6L259.4 396.3L262.3 395.4L265.0 395.0L267.7 395.4L270.2 396.3L272.7 397.0L275.0 397.3L277.3 397.6L279.5 398.3L281.6 399.5L283.7 400.6L285.7 401.2L287.7 400.7L289.6 399.5L291.4 398.1L293.2 396.9L295.0 396.2L296.7 395.7L298.3 395.4L299.9 395.1L301.5 394.8L303.1 394.4L304.6 394.1L306.1 393.8L307.5 393.6L308.9 393.5L310.3 393.5L311.7 393.4L313.0 393.2L314.3 392.9L315.6 392.4L316.8 391.8L318.1 391.2L319.3 390.6L320.5 390.2L321.7 389.9L322.8 389.8L323.9 389.8L325.0 389.8L326.1 389.9L327.2 390.0L328.3 389.9L329.3 389.8L330.3 389.6L331.4 389.4L332.4 389.1L333.3 388.8L334.3 388.5L335.3 388.1L336.2 387.7L337.1 387.4L338.0 387.1L338.9 386.8L339.8 386.5L340.7 386.3L341.6 386.2L342.4 386.1L343.3 386.1L344.1 386.2L344.9 386.2L345.8 386.3L346.6 386.4L347.4 386.4L348.2 386.5L348.9 386.5L349.7 386.4L350.5 386.3L351.2 386.2L352.0 386.0L352.7 385.8L353.4 385.6L354.1 385.4L354.8 385.1L355.6 384.9L356.3 384.6L356.9 384.3L357.6 384.0L358.3 383.7" stroke="#7f7f7f" stroke-width="1.5" fill="none" stroke-linejoin="round"/>
<path d="M48.5 455.5L95.1 449.8L122.4 448.7L141.8 448.0L156.8 445.6L169.0 443.7L179.4 442.1L188.4 440.7L196.3 439.3L203.4 438.0L209.8 436.9L215.7 434.9L221.0 432.7L226.0 430.3L230.7 427.1L235.0 423.5L239.1 420.0L242.9 416.4L246.6 411.9L250.0 407.3L253.3 406.0L256.4 405.6L259.4 405.6L262.3 405.6L265.0 405.4L267.7 404.7L270.2 403.8L272.7 403.1L275.0 402.8L277.3 402.5L279.5 401.8L281.6 400.7L283.7 399.5L285.7 398.7L287.7 398.6L289.6 398.8L291.4 399.1L293.2 399.1L295.0 398.6L296.7 397.7L298.3 396.5L299.9 395.4L301.5 394.5L303.1 393.7L304.6 393.1L306.1 392.5L307.5 392.0L308.9 391.4L310.3 390.9L311.7 390.5L313.0 390.2L314.3 390.0L315.6 390.0L316.8 390.0L318.1 389.9L319.3 389.8L320.5 389.4L321.7 388.7L322.8 387.8L323.9 386.8L325.0 385.8L326.1 384.9L327.2 384.2L328.3 383.7L329.3 383.5L330.3 383.4L331.4 383.5L332.4 383.6L333.3 383.7L334.3 383.6L335.3 383.4L336.2 383.1L337.1 382.6L338.0 382.1L338.9 381.5L339.8 380.9L340.7 380.4L341.6 379.9L342.4 379.5L343.3 379.2L344.1 378.9L344.9 378.7L345.8 378.6L346.6 378.5L347.4 378.4L348.2 378.3L348.9 378.2L349.7 378.1L350.5 377.9L351.2 377.8L352.0 377.6L352.7 377.4L353.4 377.2L354.1 377.0L354.8 376.7L355.6 376.5L356.3 376.2L356.9 375.8L357.6 375.5L358.3 375.1" stroke="#ffbb78" stroke-width="1.6" fill="none" stroke-linejoin="round"/>
<path d="M48.5 452.3L95.1 447.6L122.4 446.9L141.8 446.4L156.8 444.1L169.0 442.2L179.4 440.6L188.4 439.2L196.3 437.8L203.4 436.4L209.8 434.7L215.7 435.0L221.0 434.4L226.0 432.7L230.7 429.7L235.0 425.3L239.1 422.5L242.9 422.0L246.6 422.2L250.0 421.8L253.3 419.6L256.4 416.7L259.4 414.6L262.3 413.5L265.0 412.8L267.7 411.7L270.2 410.2L272.7 408.2L275.0 405.9L277.3 403.8L279.5 402.2L281.6 401.2L283.7 400.7L285.7 400.3L287.7 399.9L289.6 399.4L291.4 398.6L293.2 397.7L295.0 396.6L296.7 395.3L298.3 394.0L299.9 392.6L301.5 391.2L303.1 389.9L304.6 388.6L306.1 387.5L307.5 386.5L308.9 385.7L310.3 385.0L311.7 384.2L313.0 383.7L314.3 383.2L315.6 382.5L316.8 381.7L318.1 381.0L319.3 380.4L320.5 380.0L321.7 379.8L322.8 379.8L323.9 380.0L325.0 380.2L326.1 380.3L327.2 380.4L328.3 380.2L329.3 379.9L330.3 379.4L331.4 378.8L332.4 378.2L333.3 377.5L334.3 377.0L335.3 376.5L336.2 376.1L337.1 375.8L338.0 375.6L338.9 375.4L339.8 375.3L340.7 375.1L341.6 375.0L342.4 374.9L343.3 374.8L344.1 374.7L344.9 374.5L345.8 374.4L346.6 374.2L347.4 374.0L348.2 373.8L348.9 373.6L349.7 373.3L350.5 373.0L351.2 372.7L352.0 372.4L352.7 372.1L353.4 371.8L354.1 371.5L354.8 371.2L355.6 370.9L356.3 370.6L356.9 370.3L357.6 370.1L358.3 369.9" stroke="#ff7f0e" stroke-width="1.9" fill="none" stroke-linejoin="round"/>
<path d="M48.5 512.5L95.1 503.6L122.4 498.5L141.8 483.8L156.8 460.7L169.0 450.4L179.4 448.3L188.4 443.3L196.3 438.6L203.4 434.3L209.8 432.7L215.7 427.2L221.0 423.7L226.0 420.5L230.7 417.3L235.0 416.1L239.1 414.2L242.9 411.0L246.6 409.3L250.0 408.8L253.3 407.3L256.4 405.4L259.4 404.8L262.3 405.5L265.0 406.0L267.7 405.4L270.2 404.1L272.7 402.8L275.0 402.0L277.3 401.7L279.5 401.9L281.6 402.4L283.7 402.6L285.7 402.1L287.7 400.4L289.6 398.0L291.4 395.7L293.2 394.2L295.0 393.9L296.7 394.4L298.3 395.1L299.9 396.0L301.5 396.6L303.1 396.9L304.6 396.8L306.1 396.2L307.5 395.2L308.9 393.9L310.3 392.3L311.7 390.9L313.0 389.7L314.3 389.1L315.6 388.9L316.8 389.0L318.1 389.4L319.3 389.7L320.5 389.8L321.7 389.7L322.8 389.2L323.9 388.6L325.0 387.8L326.1 387.0L327.2 386.1L328.3 385.3L329.3 384.7L330.3 384.1L331.4 383.6L332.4 383.2L333.3 382.9L334.3 382.6L335.3 382.4L336.2 382.3L337.1 382.2L338.0 382.1L338.9 382.0L339.8 381.9L340.7 381.8L341.6 381.7L342.4 381.4L343.3 381.2L344.1 380.9L344.9 380.5L345.8 380.2L346.6 379.8L347.4 379.5L348.2 379.1L348.9 378.8L349.7 378.5L350.5 378.2L351.2 377.9L352.0 377.7L352.7 377.4L353.4 377.2L354.1 376.9L354.8 376.7L355.6 376.4L356.3 376.2L356.9 376.0L357.6 375.7L358.3 375.5" stroke="#ff9896" stroke-width="1.5" fill="none" stroke-linejoin="round"/>
<path d="M48.5 487.1L95.1 508.7L122.4 503.6L141.8 488.4L156.8 484.5L169.0 474.2L179.4 459.9L188.4 441.4L196.3 434.6L203.4 432.9L209.8 430.6L215.7 426.2L221.0 424.4L226.0 421.8L230.7 418.6L235.0 417.5L239.1 417.5L242.9 417.1L246.6 415.4L250.0 413.4L253.3 413.2L256.4 413.8L259.4 413.4L262.3 411.6L265.0 409.8L267.7 408.7L270.2 408.0L272.7 407.1L275.0 405.8L277.3 404.2L279.5 402.7L281.6 401.5L283.7 400.6L285.7 400.0L287.7 399.7L289.6 399.6L291.4 399.6L293.2 399.3L295.0 398.8L296.7 398.1L298.3 397.5L299.9 397.0L301.5 396.7L303.1 396.5L304.6 396.4L306.1 396.1L307.5 395.6L308.9 394.9L310.3 394.0L311.7 393.0L313.0 392.3L314.3 391.6L315.6 391.1L316.8 390.7L318.1 390.4L319.3 390.1L320.5 389.8L321.7 389.5L322.8 389.1L323.9 388.7L325.0 388.3L326.1 388.1L327.2 387.9L328.3 387.8L329.3 387.8L330.3 387.9L331.4 388.0L332.4 388.1L333.3 388.0L334.3 387.8L335.3 387.5L336.2 387.0L337.1 386.4L338.0 385.8L338.9 385.1L339.8 384.4L340.7 383.8L341.6 383.3L342.4 382.9L343.3 382.6L344.1 382.5L344.9 382.4L345.8 382.3L346.6 382.3L347.4 382.4L348.2 382.4L348.9 382.4L349.7 382.4L350.5 382.4L351.2 382.4L352.0 382.4L352.7 382.3L353.4 382.3L354.1 382.2L354.8 382.1L355.6 382.1L356.3 382.0L356.9 381.9L357.6 381.8L358.3 381.7" stroke="#98df8a" stroke-width="1.5" fill="none" stroke-linejoin="round"/>
<path d="M48.5 480.7L95.1 480.7L122.4 484.5L141.8 485.3L156.8 485.9L169.0 482.6L179.4 479.8L188.4 477.3L196.3 472.7L203.4 468.6L209.8 464.9L215.7 460.8L221.0 457.3L226.0 453.9L230.7 450.5L235.0 447.9L239.1 446.4L242.9 445.5L246.6 443.4L250.0 440.8L253.3 438.7L256.4 437.5L259.4 436.6L262.3 435.4L265.0 433.3L267.7 430.0L270.2 426.6L272.7 424.7L275.0 424.6L277.3 424.9L279.5 424.2L281.6 422.0L283.7 419.2L285.7 416.9L287.7 415.8L289.6 415.7L291.4 415.8L293.2 415.8L295.0 415.1L296.7 414.0L298.3 412.8L299.9 411.6L301.5 410.5L303.1 409.4L304.6 408.5L306.1 407.8L307.5 407.3L308.9 407.0L310.3 406.8L311.7 406.6L313.0 406.3L314.3 405.9L315.6 405.4L316.8 404.8L318.1 404.2L319.3 403.5L320.5 402.9L321.7 402.4L322.8 402.0L323.9 401.7L325.0 401.4L326.1 401.1L327.2 400.8L328.3 400.5L329.3 400.2L330.3 399.8L331.4 399.5L332.4 399.1L333.3 398.7L334.3 398.3L335.3 397.8L336.2 397.4L337.1 396.9L338.0 396.4L338.9 396.0L339.8 395.6L340.7 395.2L341.6 394.8L342.4 394.5L343.3 394.3L344.1 394.1L344.9 393.8L345.8 393.6L346.6 393.3L347.4 393.0L348.2 392.7L348.9 392.3L349.7 391.8L350.5 391.3L351.2 390.8L352.0 390.3L352.7 389.7L353.4 389.2L354.1 388.6L354.8 388.1L355.6 387.7L356.3 387.2L356.9 386.8L357.6 386.5L358.3 386.2" stroke="#f7b6d2" stroke-width="1.5" fill="none" stroke-linejoin="round"/>
<path d="M48.5 471.8L95.1 475.6L122.4 477.3L141.8 485.0L156.8 490.9L169.0 492.9L179.4 494.7L188.4 496.8L196.3 498.6L203.4 500.3L209.8 500.2L215.7 499.3L221.0 500.9L226.0 496.5L230.7 479.7L235.0 457.1L239.1 450.0L242.9 446.8L246.6 443.3L250.0 441.1L253.3 437.7L256.4 434.3L259.4 432.9L262.3 433.5L265.0 434.3L267.7 433.1L270.2 431.1L272.7 429.2L275.0 428.0L277.3 426.9L279.5 425.6L281.6 423.9L283.7 422.0L285.7 420.5L287.7 419.4L289.6 418.7L291.4 418.2L293.2 417.4L295.0 416.3L296.7 414.9L298.3 413.2L299.9 411.3L301.5 409.3L303.1 407.2L304.6 405.2L306.1 403.6L307.5 402.3L308.9 401.5L310.3 400.9L311.7 400.5L313.0 400.0L314.3 399.5L315.6 398.8L316.8 398.0L318.1 397.2L319.3 396.3L320.5 395.4L321.7 394.5L322.8 393.6L323.9 392.7L325.0 391.8L326.1 390.8L327.2 389.9L328.3 388.9L329.3 387.9L330.3 387.0L331.4 386.0L332.4 385.1L333.3 384.3L334.3 383.6L335.3 382.9L336.2 382.4L337.1 381.9L338.0 381.5L338.9 381.1L339.8 380.6L340.7 380.1L341.6 379.6L342.4 378.9L343.3 378.2L344.1 377.4L344.9 376.6L345.8 375.7L346.6 374.9L347.4 374.1L348.2 373.4L348.9 372.7L349.7 372.1L350.5 371.5L351.2 371.0L352.0 370.6L352.7 370.1L353.4 369.7L354.1 369.4L354.8 369.0L355.6 368.6L356.3 368.3L356.9 367.9L357.6 367.5L358.3 367.2" stroke="#aec7e8" stroke-width="1.5" fill="none" stroke-linejoin="round"/>
<path d="M48.5 572.2L95.1 573.6L122.4 577.1L141.8 579.5L156.8 577.4L169.0 546.8L179.4 516.8L188.4 490.9L196.3 480.7L203.4 480.2L209.8 480.6L215.7 471.6L221.0 466.2L226.0 460.0L230.7 454.7L235.0 451.7L239.1 449.7L242.9 447.0L246.6 441.8L250.0 436.1L253.3 434.0L256.4 434.3L259.4 434.6L262.3 434.0L265.0 432.4L267.7 430.0L270.2 427.7L272.7 426.2L275.0 425.8L277.3 425.7L279.5 425.1L281.6 423.6L283.7 421.8L285.7 420.3L287.7 419.3L289.6 418.7L291.4 418.1L293.2 417.2L295.0 415.7L296.7 414.1L298.3 412.7L299.9 411.8L301.5 411.7L303.1 412.0L304.6 412.4L306.1 412.6L307.5 412.3L308.9 411.3L310.3 409.9L311.7 408.4L313.0 407.0L314.3 405.9L315.6 405.0L316.8 404.4L318.1 404.0L319.3 403.8L320.5 403.7L321.7 403.6L322.8 403.6L323.9 403.5L325.0 403.3L326.1 403.0L327.2 402.5L328.3 401.8L329.3 401.0L330.3 400.0L331.4 399.0L332.4 398.1L333.3 397.3L334.3 396.6L335.3 396.1L336.2 395.9L337.1 395.8L338.0 395.7L338.9 395.7L339.8 395.7L340.7 395.5L341.6 395.3L342.4 394.9L343.3 394.3L344.1 393.7L344.9 392.9L345.8 392.2L346.6 391.4L347.4 390.7L348.2 390.1L348.9 389.5L349.7 389.1L350.5 388.7L351.2 388.4L352.0 388.2L352.7 388.0L353.4 387.8L354.1 387.7L354.8 387.6L355.6 387.4L356.3 387.3L356.9 387.2L357.6 387.0L358.3 386.8" stroke="#9edae5" stroke-width="1.5" fill="none" stroke-linejoin="round"/>
<path d="M48.5 567.3L95.1 536.7L122.4 516.4L141.8 506.3L156.8 498.5L169.0 490.1L179.4 483.1L188.4 476.9L196.3 471.5L203.4 466.7L209.8 466.0L215.7 459.3L221.0 456.3L226.0 453.4L230.7 449.3L235.0 447.1L239.1 444.4L242.9 441.1L246.6 439.7L250.0 439.1L253.3 436.5L256.4 432.3L259.4 428.4L262.3 425.9L265.0 424.7L267.7 424.5L270.2 424.6L272.7 424.2L275.0 423.0L277.3 421.3L279.5 419.5L281.6 418.2L283.7 417.2L285.7 416.3L287.7 415.3L289.6 414.2L291.4 413.0L293.2 411.8L295.0 410.5L296.7 409.3L298.3 408.4L299.9 408.0L301.5 408.2L303.1 408.6L304.6 409.1L306.1 409.5L307.5 409.4L308.9 409.0L310.3 408.2L311.7 407.3L313.0 406.4L314.3 405.7L315.6 405.1L316.8 404.7L318.1 404.3L319.3 404.0L320.5 403.6L321.7 403.2L322.8 402.7L323.9 402.2L325.0 401.7L326.1 401.2L327.2 400.8L328.3 400.5L329.3 400.2L330.3 399.9L331.4 399.7L332.4 399.4L333.3 399.0L334.3 398.6L335.3 398.0L336.2 397.3L337.1 396.6L338.0 395.8L338.9 395.1L339.8 394.4L340.7 393.8L341.6 393.3L342.4 392.9L343.3 392.7L344.1 392.5L344.9 392.5L345.8 392.4L346.6 392.3L347.4 392.2L348.2 392.0L348.9 391.7L349.7 391.3L350.5 390.8L351.2 390.3L352.0 389.8L352.7 389.2L353.4 388.5L354.1 387.9L354.8 387.3L355.6 386.8L356.3 386.2L356.9 385.7L357.6 385.3L358.3 384.9" stroke="#c5b0d5" stroke-width="1.5" fill="none" stroke-linejoin="round"/>
<path d="M48.5 483.7L95.1 481.8L122.4 480.7L141.8 460.3L156.8 459.6L169.0 455.5L179.4 452.1L188.4 449.4L196.3 447.4L203.4 446.0L209.8 445.7L215.7 441.2L221.0 442.2L226.0 443.9L230.7 441.2L235.0 436.6L239.1 432.1L242.9 428.9L246.6 427.2L250.0 425.8L253.3 422.4L256.4 418.0L259.4 415.1L262.3 414.0L265.0 413.2L267.7 412.1L270.2 410.8L272.7 409.8L275.0 409.5L277.3 409.4L279.5 409.0L281.6 408.1L283.7 406.8L285.7 405.4L287.7 404.2L289.6 403.2L291.4 402.6L293.2 402.4L295.0 402.7L296.7 403.1L298.3 403.2L299.9 402.8L301.5 401.6L303.1 400.0L304.6 398.3L306.1 396.9L307.5 396.1L308.9 395.9L310.3 396.0L311.7 396.3L313.0 396.6L314.3 396.5L315.6 396.0L316.8 395.2L318.1 394.3L319.3 393.5L320.5 392.8L321.7 392.5L322.8 392.6L323.9 392.8L325.0 393.0L326.1 393.1L327.2 393.0L328.3 392.7L329.3 392.0L330.3 391.1L331.4 390.1L332.4 389.2L333.3 388.3L334.3 387.6L335.3 387.1L336.2 386.8L337.1 386.8L338.0 386.9L338.9 387.0L339.8 387.2L340.7 387.4L341.6 387.4L342.4 387.4L343.3 387.3L344.1 387.2L344.9 386.9L345.8 386.6L346.6 386.3L347.4 386.0L348.2 385.7L348.9 385.4L349.7 385.1L350.5 384.9L351.2 384.7L352.0 384.5L352.7 384.3L353.4 384.2L354.1 384.1L354.8 384.0L355.6 383.9L356.3 383.8L356.9 383.8L357.6 383.7L358.3 383.7" stroke="#8c564b" stroke-width="1.7" fill="none" stroke-linejoin="round"/>
<path d="M48.5 544.5L95.1 526.4L122.4 447.1L141.8 452.5L156.8 459.1L169.0 461.1L179.4 458.3L188.4 455.9L196.3 453.8L203.4 447.5L209.8 443.4L215.7 442.4L221.0 440.0L226.0 436.7L230.7 435.3L235.0 436.6L239.1 436.1L242.9 432.6L246.6 428.8L250.0 426.0L253.3 425.2L256.4 425.8L259.4 426.6L262.3 426.7L265.0 425.7L267.7 423.6L270.2 421.1L272.7 419.2L275.0 418.2L277.3 417.4L279.5 416.5L281.6 415.0L283.7 413.5L285.7 412.3L287.7 411.7L289.6 411.5L291.4 411.4L293.2 410.8L295.0 409.7L296.7 408.2L298.3 406.8L299.9 405.8L301.5 405.4L303.1 405.4L304.6 405.5L306.1 405.2L307.5 404.5L308.9 403.2L310.3 401.5L311.7 399.7L313.0 397.9L314.3 396.3L315.6 395.1L316.8 394.2L318.1 393.3L319.3 392.6L320.5 391.9L321.7 391.2L322.8 390.5L323.9 389.8L325.0 389.1L326.1 388.5L327.2 388.1L328.3 387.9L329.3 387.8L330.3 387.9L331.4 387.9L332.4 387.9L333.3 387.8L334.3 387.5L335.3 387.0L336.2 386.2L337.1 385.3L338.0 384.4L338.9 383.5L339.8 382.6L340.7 381.8L341.6 381.2L342.4 380.8L343.3 380.6L344.1 380.6L344.9 380.6L345.8 380.6L346.6 380.6L347.4 380.5L348.2 380.4L348.9 380.1L349.7 379.6L350.5 379.0L351.2 378.4L352.0 377.6L352.7 376.8L353.4 375.9L354.1 375.1L354.8 374.2L355.6 373.4L356.3 372.6L356.9 371.9L357.6 371.2L358.3 370.6" stroke="#d62728" stroke-width="1.7" fill="none" stroke-linejoin="round"/>
<path d="M48.5 584.8L95.1 587.1L122.4 524.0L141.8 513.8L156.8 498.5L169.0 492.2L179.4 482.0L188.4 480.7L196.3 476.1L203.4 472.0L209.8 466.7L215.7 460.8L221.0 457.5L226.0 453.6L230.7 449.8L235.0 448.7L239.1 446.6L242.9 442.4L246.6 438.4L250.0 435.1L253.3 433.0L256.4 430.9L259.4 429.5L262.3 428.7L265.0 427.5L267.7 425.3L270.2 423.0L272.7 421.7L275.0 421.7L277.3 422.2L279.5 422.3L281.6 421.5L283.7 420.2L285.7 418.6L287.7 417.3L289.6 416.1L291.4 415.1L293.2 414.4L295.0 413.9L296.7 413.3L298.3 412.7L299.9 411.9L301.5 410.8L303.1 409.7L304.6 408.6L306.1 407.6L307.5 407.0L308.9 406.6L310.3 406.3L311.7 406.0L313.0 405.6L314.3 404.8L315.6 403.8L316.8 402.5L318.1 401.3L319.3 400.1L320.5 399.2L321.7 398.6L322.8 398.3L323.9 398.1L325.0 398.0L326.1 397.9L327.2 397.7L328.3 397.3L329.3 396.6L330.3 395.9L331.4 395.0L332.4 394.1L333.3 393.3L334.3 392.6L335.3 392.1L336.2 391.7L337.1 391.4L338.0 391.1L338.9 390.9L339.8 390.7L340.7 390.4L341.6 390.1L342.4 389.6L343.3 389.0L344.1 388.3L344.9 387.7L345.8 387.0L346.6 386.3L347.4 385.8L348.2 385.2L348.9 384.8L349.7 384.5L350.5 384.3L351.2 384.2L352.0 384.1L352.7 384.1L353.4 384.0L354.1 384.0L354.8 383.9L355.6 383.8L356.3 383.7L356.9 383.5L357.6 383.3L358.3 383.0" stroke="#d62728" stroke-width="1.7" fill="none" stroke-linejoin="round"/>
<path d="M48.5 578.6L95.1 480.7L122.4 488.4L141.8 475.6L156.8 468.4L169.0 462.2L179.4 455.8L188.4 450.2L196.3 440.0L203.4 436.3L209.8 430.9L215.7 431.4L221.0 429.5L226.0 426.7L230.7 425.0L235.0 422.7L239.1 422.8L242.9 424.9L246.6 424.2L250.0 421.7L253.3 419.7L256.4 419.6L259.4 419.3L262.3 418.0L265.0 416.3L267.7 414.6L270.2 413.1L272.7 411.4L275.0 409.8L277.3 408.3L279.5 407.2L281.6 406.6L283.7 406.2L285.7 405.8L287.7 405.1L289.6 404.2L291.4 403.2L293.2 402.2L295.0 401.2L296.7 400.4L298.3 399.6L299.9 398.9L301.5 398.2L303.1 397.5L304.6 397.0L306.1 396.7L307.5 396.7L308.9 397.0L310.3 397.3L311.7 397.6L313.0 397.7L314.3 397.4L315.6 396.7L316.8 395.7L318.1 394.7L319.3 393.6L320.5 392.5L321.7 391.7L322.8 391.1L323.9 390.5L325.0 390.1L326.1 389.7L327.2 389.4L328.3 389.0L329.3 388.5L330.3 388.0L331.4 387.5L332.4 387.0L333.3 386.5L334.3 385.9L335.3 385.4L336.2 384.9L337.1 384.3L338.0 383.9L338.9 383.4L339.8 383.0L340.7 382.6L341.6 382.4L342.4 382.1L343.3 382.0L344.1 381.8L344.9 381.7L345.8 381.7L346.6 381.6L347.4 381.5L348.2 381.4L348.9 381.3L349.7 381.2L350.5 381.0L351.2 380.8L352.0 380.7L352.7 380.5L353.4 380.2L354.1 380.0L354.8 379.8L355.6 379.6L356.3 379.4L356.9 379.2L357.6 379.0L358.3 378.8" stroke="#17becf" stroke-width="1.7" fill="none" stroke-linejoin="round"/>
<path d="M48.5 564.8L95.1 521.4L122.4 501.1L141.8 492.5L156.8 485.9L169.0 479.4L179.4 474.0L188.4 469.2L196.3 465.1L203.4 461.4L209.8 455.5L215.7 455.6L221.0 451.8L226.0 447.5L230.7 444.3L235.0 440.4L239.1 438.1L242.9 437.6L246.6 436.8L250.0 435.4L253.3 433.7L256.4 431.9L259.4 430.0L262.3 427.9L265.0 426.1L267.7 424.8L270.2 423.5L272.7 421.9L275.0 419.8L277.3 417.6L279.5 415.5L281.6 413.9L283.7 412.5L285.7 411.4L287.7 410.5L289.6 409.6L291.4 408.7L293.2 407.5L295.0 406.3L296.7 404.9L298.3 403.7L299.9 402.8L301.5 402.3L303.1 402.0L304.6 401.7L306.1 401.3L307.5 400.6L308.9 399.7L310.3 398.6L311.7 397.4L313.0 396.6L314.3 395.9L315.6 395.4L316.8 395.1L318.1 394.8L319.3 394.6L320.5 394.3L321.7 394.0L322.8 393.6L323.9 393.1L325.0 392.6L326.1 392.0L327.2 391.3L328.3 390.7L329.3 390.0L330.3 389.4L331.4 388.7L332.4 388.1L333.3 387.5L334.3 387.0L335.3 386.6L336.2 386.3L337.1 386.0L338.0 385.8L338.9 385.6L339.8 385.5L340.7 385.4L341.6 385.3L342.4 385.3L343.3 385.2L344.1 385.2L344.9 385.1L345.8 385.0L346.6 384.9L347.4 384.8L348.2 384.5L348.9 384.2L349.7 383.9L350.5 383.5L351.2 383.1L352.0 382.6L352.7 382.1L353.4 381.6L354.1 381.1L354.8 380.6L355.6 380.2L356.3 379.7L356.9 379.3L357.6 378.9L358.3 378.6" stroke="#1f9fe0" stroke-width="1.6" fill="none" stroke-linejoin="round"/>
<path d="M48.5 516.4L95.1 508.7L122.4 507.4L141.8 495.3L156.8 485.9L169.0 478.0L179.4 471.3L188.4 465.5L196.3 461.1L203.4 457.2L209.8 451.9L215.7 447.2L221.0 447.2L226.0 445.2L230.7 440.3L235.0 437.0L239.1 436.5L242.9 437.1L246.6 435.5L250.0 432.4L253.3 430.1L256.4 428.7L259.4 427.1L262.3 425.2L265.0 423.9L267.7 423.5L270.2 423.4L272.7 422.8L275.0 421.3L277.3 419.3L279.5 417.2L281.6 415.2L283.7 413.5L285.7 412.0L287.7 410.9L289.6 409.9L291.4 408.9L293.2 407.8L295.0 406.6L296.7 405.3L298.3 404.4L299.9 403.8L301.5 403.8L303.1 404.0L304.6 404.2L306.1 404.2L307.5 403.7L308.9 402.7L310.3 401.5L311.7 400.1L313.0 398.9L314.3 397.8L315.6 397.1L316.8 396.7L318.1 396.5L319.3 396.4L320.5 396.5L321.7 396.6L322.8 396.8L323.9 396.8L325.0 396.8L326.1 396.7L327.2 396.4L328.3 395.9L329.3 395.2L330.3 394.3L331.4 393.4L332.4 392.6L333.3 391.7L334.3 391.0L335.3 390.4L336.2 390.1L337.1 389.8L338.0 389.6L338.9 389.5L339.8 389.3L340.7 389.1L341.6 388.9L342.4 388.6L343.3 388.2L344.1 387.8L344.9 387.3L345.8 386.8L346.6 386.3L347.4 385.8L348.2 385.4L348.9 384.9L349.7 384.6L350.5 384.3L351.2 384.0L352.0 383.8L352.7 383.5L353.4 383.3L354.1 383.1L354.8 382.9L355.6 382.6L356.3 382.4L356.9 382.1L357.6 381.9L358.3 381.5" stroke="#1f77b4" stroke-width="1.6" fill="none" stroke-linejoin="round"/>
<path d="M48.5 541.8L95.1 508.7L122.4 508.7L141.8 498.5L156.8 496.0L169.0 484.6L179.4 475.0L188.4 466.7L196.3 462.5L203.4 458.8L209.8 453.7L215.7 451.6L221.0 450.1L226.0 445.4L230.7 440.4L235.0 439.1L239.1 437.9L242.9 435.4L246.6 432.5L250.0 430.0L253.3 428.8L256.4 428.0L259.4 426.9L262.3 425.2L265.0 422.6L267.7 419.3L270.2 416.3L272.7 414.8L275.0 414.9L277.3 415.5L279.5 415.5L281.6 414.3L283.7 412.6L285.7 410.9L287.7 409.9L289.6 409.4L291.4 409.0L293.2 408.6L295.0 407.9L296.7 407.0L298.3 405.9L299.9 404.5L301.5 403.0L303.1 401.4L304.6 399.9L306.1 398.6L307.5 397.5L308.9 396.6L310.3 396.0L311.7 395.6L313.0 395.5L314.3 395.5L315.6 395.5L316.8 395.6L318.1 395.6L319.3 395.5L320.5 395.3L321.7 395.0L322.8 394.6L323.9 394.0L325.0 393.5L326.1 393.0L327.2 392.5L328.3 392.1L329.3 391.8L330.3 391.6L331.4 391.4L332.4 391.3L333.3 391.2L334.3 391.0L335.3 390.8L336.2 390.6L337.1 390.3L338.0 390.0L338.9 389.6L339.8 389.3L340.7 389.0L341.6 388.7L342.4 388.4L343.3 388.1L344.1 387.8L344.9 387.5L345.8 387.3L346.6 387.0L347.4 386.8L348.2 386.6L348.9 386.3L349.7 386.1L350.5 385.9L351.2 385.6L352.0 385.4L352.7 385.1L353.4 384.9L354.1 384.6L354.8 384.4L355.6 384.1L356.3 383.9L356.9 383.6L357.6 383.3L358.3 383.0" stroke="#2ca02c" stroke-width="1.6" fill="none" stroke-linejoin="round"/>
<path d="M48.5 552.0L95.1 535.4L122.4 530.4L141.8 525.3L156.8 506.2L169.0 503.6L179.4 487.2L188.4 473.1L196.3 468.6L203.4 464.7L209.8 461.5L215.7 460.2L221.0 455.5L226.0 452.4L230.7 450.6L235.0 446.1L239.1 442.4L242.9 440.6L246.6 438.7L250.0 436.4L253.3 434.7L256.4 433.7L259.4 433.4L262.3 433.2L265.0 432.1L267.7 429.5L270.2 426.2L272.7 423.1L275.0 420.9L277.3 419.6L279.5 419.2L281.6 419.4L283.7 419.7L285.7 419.5L287.7 418.6L289.6 417.0L291.4 415.1L293.2 413.0L295.0 411.2L296.7 409.6L298.3 408.4L299.9 407.7L301.5 407.5L303.1 407.6L304.6 407.6L306.1 407.4L307.5 406.6L308.9 405.2L310.3 403.5L311.7 401.7L313.0 400.3L314.3 399.4L315.6 398.9L316.8 398.8L318.1 398.9L319.3 399.1L320.5 399.3L321.7 399.5L322.8 399.5L323.9 399.3L325.0 399.0L326.1 398.6L327.2 398.0L328.3 397.3L329.3 396.5L330.3 395.6L331.4 394.7L332.4 393.9L333.3 393.0L334.3 392.3L335.3 391.8L336.2 391.3L337.1 391.0L338.0 390.8L338.9 390.6L339.8 390.5L340.7 390.4L341.6 390.3L342.4 390.2L343.3 390.1L344.1 390.0L344.9 389.8L345.8 389.6L346.6 389.4L347.4 389.1L348.2 388.8L348.9 388.4L349.7 388.0L350.5 387.6L351.2 387.1L352.0 386.7L352.7 386.2L353.4 385.7L354.1 385.3L354.8 384.9L355.6 384.5L356.3 384.1L356.9 383.8L357.6 383.6L358.3 383.4" stroke="#1b9e77" stroke-width="1.6" fill="none" stroke-linejoin="round"/>
<path d="M48.5 569.8L95.1 554.5L122.4 553.3L141.8 544.7L156.8 538.0L169.0 523.9L179.4 488.4L188.4 457.8L196.3 454.0L203.4 450.7L209.8 443.8L215.7 439.1L221.0 433.2L226.0 426.6L230.7 422.1L235.0 421.5L239.1 420.5L242.9 417.4L246.6 415.8L250.0 416.0L253.3 415.7L256.4 414.7L259.4 413.3L262.3 411.8L265.0 410.5L267.7 409.8L270.2 409.3L272.7 408.9L275.0 408.2L277.3 407.2L279.5 405.7L281.6 403.9L283.7 402.1L285.7 400.8L287.7 400.1L289.6 400.0L291.4 399.9L293.2 399.5L295.0 398.6L296.7 397.4L298.3 396.2L299.9 395.1L301.5 394.3L303.1 393.9L304.6 393.6L306.1 393.4L307.5 393.2L308.9 393.1L310.3 393.0L311.7 392.8L313.0 392.9L314.3 393.0L315.6 393.1L316.8 393.2L318.1 393.2L319.3 393.1L320.5 393.0L321.7 392.7L322.8 392.3L323.9 391.9L325.0 391.4L326.1 390.9L327.2 390.5L328.3 390.0L329.3 389.6L330.3 389.2L331.4 388.8L332.4 388.5L333.3 388.2L334.3 388.0L335.3 387.7L336.2 387.5L337.1 387.3L338.0 387.2L338.9 387.1L339.8 387.0L340.7 386.9L341.6 386.9L342.4 386.9L343.3 386.9L344.1 386.9L344.9 386.9L345.8 386.9L346.6 386.8L347.4 386.8L348.2 386.6L348.9 386.5L349.7 386.2L350.5 385.9L351.2 385.6L352.0 385.3L352.7 385.0L353.4 384.6L354.1 384.3L354.8 384.0L355.6 383.8L356.3 383.5L356.9 383.4L357.6 383.2L358.3 383.2" stroke="#1a7f1a" stroke-width="1.8" fill="none" stroke-linejoin="round"/>
<path d="M48.5 583.8L95.1 547.4L122.4 549.4L141.8 529.1L156.8 508.7L169.0 487.0L179.4 465.6L188.4 462.3L196.3 459.5L203.4 456.9L209.8 450.7L215.7 451.1L221.0 452.0L226.0 449.6L230.7 445.2L235.0 442.4L239.1 439.9L242.9 437.2L246.6 435.6L250.0 434.8L253.3 434.1L256.4 432.7L259.4 430.9L262.3 428.7L265.0 426.7L267.7 425.1L270.2 423.7L272.7 422.2L275.0 420.5L277.3 418.7L279.5 416.9L281.6 415.1L283.7 413.7L285.7 412.9L287.7 412.7L289.6 413.1L291.4 413.4L293.2 413.4L295.0 412.9L296.7 412.0L298.3 410.8L299.9 409.7L301.5 408.5L303.1 407.5L304.6 406.6L306.1 405.8L307.5 405.0L308.9 404.4L310.3 403.8L311.7 403.1L313.0 402.7L314.3 402.2L315.6 401.6L316.8 401.0L318.1 400.4L319.3 399.8L320.5 399.2L321.7 398.7L322.8 398.2L323.9 397.8L325.0 397.4L326.1 397.1L327.2 396.8L328.3 396.5L329.3 396.3L330.3 396.0L331.4 395.7L332.4 395.5L333.3 395.1L334.3 394.8L335.3 394.3L336.2 393.9L337.1 393.4L338.0 392.8L338.9 392.3L339.8 391.9L340.7 391.4L341.6 391.1L342.4 390.8L343.3 390.6L344.1 390.5L344.9 390.4L345.8 390.3L346.6 390.3L347.4 390.2L348.2 390.2L348.9 390.1L349.7 390.0L350.5 389.9L351.2 389.7L352.0 389.5L352.7 389.4L353.4 389.2L354.1 389.0L354.8 388.8L355.6 388.5L356.3 388.3L356.9 388.1L357.6 387.9L358.3 387.7" stroke="#9467bd" stroke-width="1.6" fill="none" stroke-linejoin="round"/>
<path d="M95.1 647.9L95.1 547.2L95.1 547.2L122.4 490.9L141.8 479.8L156.8 480.5L169.0 471.4L179.4 470.9L188.4 470.9L196.3 470.9L203.4 469.1L209.8 470.2L215.7 464.4L221.0 462.4L226.0 462.0L230.7 459.4L235.0 456.2L239.1 453.4L242.9 450.9L246.6 448.3L250.0 444.9L253.3 440.9L256.4 436.8L259.4 435.8L262.3 437.6L265.0 438.9L267.7 437.5L270.2 434.5L272.7 431.5L275.0 429.6L277.3 428.4L279.5 427.6L281.6 426.8L283.7 426.1L285.7 425.4L287.7 424.9L289.6 424.3L291.4 423.6L293.2 422.7L295.0 421.4L296.7 420.0L298.3 418.8L299.9 417.9L301.5 417.5L303.1 417.5L304.6 417.5L306.1 417.4L307.5 417.0L308.9 416.2L310.3 415.1L311.7 413.9L313.0 412.6L314.3 411.3L315.6 410.2L316.8 409.1L318.1 408.3L319.3 407.6L320.5 407.1L321.7 406.8L322.8 406.7L323.9 406.7L325.0 406.7L326.1 406.7L327.2 406.6L328.3 406.4L329.3 406.0L330.3 405.5L331.4 405.0L332.4 404.4L333.3 403.7L334.3 403.1L335.3 402.4L336.2 401.8L337.1 401.2L338.0 400.6L338.9 400.0L339.8 399.4L340.7 398.8L341.6 398.3L342.4 397.7L343.3 397.2L344.1 396.7L344.9 396.2L345.8 395.6L346.6 395.1L347.4 394.7L348.2 394.2L348.9 393.7L349.7 393.3L350.5 392.9L351.2 392.4L352.0 392.0L352.7 391.6L353.4 391.3L354.1 390.9L354.8 390.5L355.6 390.2L356.3 389.9L356.9 389.5L357.6 389.2L358.3 388.9" stroke="#e377c2" stroke-width="1.6" fill="none" stroke-linejoin="round"/>
<path d="M48.5 426.7L95.1 423.1L122.4 423.4L141.8 423.4L156.8 421.2L169.0 412.7L179.4 412.4L188.4 412.5L196.3 412.6L203.4 412.6L209.8 412.5L215.7 412.5L221.0 413.2L226.0 413.3L230.7 411.8L235.0 410.5L239.1 409.1L242.9 407.7L246.6 407.0L250.0 406.5L253.3 402.7L256.4 398.8L259.4 395.3L262.3 392.5L265.0 391.0L267.7 389.9L270.2 388.6L272.7 387.4L275.0 386.2L277.3 385.2L279.5 384.2L281.6 383.2L283.7 382.8L285.7 382.4L287.7 381.9L289.6 381.4L291.4 381.1L293.2 380.9L295.0 381.0L296.7 381.2L298.3 381.5L299.9 381.7L301.5 381.7L303.1 381.6L304.6 381.5L306.1 381.2L307.5 381.0L308.9 380.7L310.3 380.5L311.7 380.4L313.0 380.3L314.3 380.3L315.6 380.4L316.8 380.5L318.1 380.6L319.3 380.7L320.5 380.7L321.7 380.6L322.8 380.4L323.9 380.1L325.0 379.8L326.1 379.6L327.2 379.4L328.3 379.3L329.3 379.3L330.3 379.3L331.4 379.4L332.4 379.4L333.3 379.5L334.3 379.5L335.3 379.4L336.2 379.3L337.1 379.1L338.0 378.9L338.9 378.7L339.8 378.4L340.7 378.2L341.6 378.0L342.4 377.9L343.3 377.8L344.1 377.7L344.9 377.6L345.8 377.6L346.6 377.5L347.4 377.5L348.2 377.5L348.9 377.5L349.7 377.5L350.5 377.4L351.2 377.4L352.0 377.4L352.7 377.3L353.4 377.3L354.1 377.3L354.8 377.2L355.6 377.2L356.3 377.2L356.9 377.2L357.6 377.1L358.3 377.1" stroke="#bcbd22" stroke-width="1.9" fill="none" stroke-linejoin="round"/>
<path d="M48.5 466.7L139.9 448.2L174.9 439.4L209.9 427.2L240.3 416.4L249.9 415.0L290.5 402.7L358.3 379.8" stroke="#000" stroke-width="2.35" fill="none" stroke-linejoin="round"/>
</g>
<g clip-path="url(#cd)">
<path d="M439.7 307.8L486.9 362.9L513.8 368.7L535.2 363.5L556.2 359.1L580.8 367.4L601.2 371.1L623.5 377.5L645.3 391.7L661.7 402.6L681.7 414.9L700.6 434.0L720.0 474.2" stroke="#aec7e8" stroke-width="1.5" fill="none" stroke-linejoin="round"/>
<path d="M453.2 310.7L493.6 371.6L516.5 362.9L540.0 359.6L563.2 361.8L584.1 367.6L607.4 373.1L625.2 378.1L650.3 392.1L666.5 401.6L688.5 421.0L711.4 452.0L718.6 470.1" stroke="#c7c7c7" stroke-width="1.5" fill="none" stroke-linejoin="round"/>
<path d="M446.5 310.7L493.6 373.3L523.3 365.8L542.2 365.0L559.0 361.9L582.6 362.9L604.2 369.6L620.7 377.3L637.5 386.0L661.8 398.7L683.6 414.9L704.3 439.7L718.6 470.1" stroke="#9edae5" stroke-width="1.5" fill="none" stroke-linejoin="round"/>
<path d="M480.2 316.5L503.1 364.6L527.3 360.0L552.5 363.0L575.7 367.8L601.2 371.8L621.0 378.4L640.2 384.1L664.9 402.6L686.1 418.1L707.5 446.0L730.1 548.9" stroke="#c5b0d5" stroke-width="1.5" fill="none" stroke-linejoin="round"/>
<path d="M459.9 310.7L497.7 368.7L520.6 371.6L540.8 367.5L559.6 366.0L579.4 366.6L601.9 373.3L619.9 379.1L640.3 388.6L665.3 403.7L684.2 418.0L708.1 447.5L720.0 475.9" stroke="#9467bd" stroke-width="1.5" fill="none" stroke-linejoin="round"/>
<path d="M470.7 316.5L492.3 350.1L527.3 353.6L547.1 355.8L569.0 356.2L587.0 368.8L603.9 370.2L622.7 377.3L647.1 392.5L668.2 404.0L690.9 420.9L711.8 453.5L718.6 470.1" stroke="#f7b6d2" stroke-width="1.5" fill="none" stroke-linejoin="round"/>
<path d="M466.7 310.7L500.4 360.0L527.3 354.2L552.8 364.0L569.7 359.3L590.1 367.2L607.8 370.5L625.0 375.1L647.3 387.1L672.8 404.8L691.7 424.4L719.3 471.8" stroke="#e377c2" stroke-width="1.5" fill="none" stroke-linejoin="round"/>
<path d="M453.2 316.5L492.3 374.5L513.8 362.9L533.0 354.2L556.9 362.7L578.9 363.2L595.6 364.0L619.0 375.1L642.3 383.9L662.5 399.5L687.4 420.7L711.7 451.6L718.6 467.2" stroke="#98df8a" stroke-width="1.5" fill="none" stroke-linejoin="round"/>
<path d="M459.9 316.5L494.2 361.2L513.8 374.5L527.3 371.6L552.2 362.5L571.0 367.2L589.6 373.5L611.9 375.4L634.0 388.1L654.4 397.9L672.8 409.8L691.6 424.8L718.6 470.1" stroke="#7f7f7f" stroke-width="1.5" fill="none" stroke-linejoin="round"/>
<path d="M466.7 304.9L494.2 366.4L519.2 374.5L567.7 365.8L630.1 388.8L647.7 398.4L670.3 411.4L688.3 422.2L709.7 449.8L722.5 484.0" stroke="#dbdb8d" stroke-width="1.5" fill="none" stroke-linejoin="round"/>
<path d="M459.9 316.5L496.3 383.2L513.8 379.1L532.7 368.7L554.9 359.3L576.8 356.3L597.7 371.3L619.2 378.9L642.7 389.8L664.5 403.4L682.9 417.5L707.3 444.1L718.6 470.1" stroke="#ffbb78" stroke-width="1.5" fill="none" stroke-linejoin="round"/>
<path d="M462.6 310.7L494.4 381.4L520.6 371.6L541.7 362.9L564.2 358.8L588.9 369.8L608.1 371.1L626.8 379.6L648.0 390.6L672.1 406.7L691.8 424.9L718.6 470.1" stroke="#c49c94" stroke-width="1.5" fill="none" stroke-linejoin="round"/>
<path d="M453.2 310.7L493.6 374.5L520.6 360.0L542.9 360.6L567.3 362.7L588.6 365.7L610.6 372.9L633.1 384.1L652.6 393.2L672.6 408.2L691.3 423.1L718.6 470.1" stroke="#ff9896" stroke-width="1.5" fill="none" stroke-linejoin="round"/>
<path d="M453.2 310.7L497.7 377.4L527.3 365.8L550.3 357.0L570.4 360.9L590.8 367.7L608.1 377.7L633.4 382.6L652.5 393.3L675.9 411.8L699.4 433.2L720.0 473.0" stroke="#bcbd22" stroke-width="1.5" fill="none" stroke-linejoin="round"/>
<path d="M459.9 313.6L494.4 382.6L513.8 374.5L530.0 368.7L551.0 364.1L568.8 364.1L591.5 371.2L616.0 376.0L639.0 387.3L658.5 400.7L676.4 411.8L698.2 431.3L702.4 430.5L721.3 476.7L730.1 540.0" stroke="#8c564b" stroke-width="1.6" fill="none" stroke-linejoin="round"/>
<path d="M453.2 316.5L494.4 383.8L513.8 368.7L530.0 378.0L550.2 379.3L578.5 372.7L594.7 372.7L613.0 377.5L630.4 385.3L653.1 394.3L670.4 407.6L692.2 425.6L712.6 455.0L721.2 477.6" stroke="#d62728" stroke-width="1.6" fill="none" stroke-linejoin="round"/>
<path d="M446.5 310.7L472.3 348.4L497.7 349.4L513.8 365.8L530.0 364.0L548.0 363.5L569.6 358.5L592.7 368.0L614.6 378.1L635.9 384.6L655.9 392.9L672.8 408.4L690.9 423.8L720.6 475.9" stroke="#d62728" stroke-width="1.6" fill="none" stroke-linejoin="round"/>
<path d="M459.9 327.0L494.4 379.1L520.6 365.8L540.8 351.3L555.6 375.4L581.2 368.6L598.8 373.4L619.3 377.2L639.3 385.4L657.5 394.4L675.4 411.2L696.2 427.5L713.3 456.1L724.9 497.9" stroke="#1f77b4" stroke-width="1.6" fill="none" stroke-linejoin="round"/>
<path d="M439.7 307.8L494.4 382.0L511.1 379.1L527.3 371.6L548.9 359.6L565.8 367.1L591.2 365.6L608.3 373.5L625.3 382.3L643.1 389.3L667.5 403.3L688.0 421.3L707.7 446.0L720.0 474.2" stroke="#ff7f0e" stroke-width="1.6" fill="none" stroke-linejoin="round"/>
<path d="M459.9 347.5L494.4 381.4L519.2 365.8L536.8 360.7L554.4 362.2L572.9 366.7L593.6 372.1L616.7 378.5L640.3 386.6L661.5 398.3L678.0 412.5L700.5 433.3L722.7 478.8" stroke="#1f9fe0" stroke-width="1.5" fill="none" stroke-linejoin="round"/>
<path d="M442.4 307.8L494.2 366.4L518.7 387.2L533.0 375.1L547.5 363.2L570.6 364.8L590.8 374.5L612.3 373.7L629.2 384.2L650.7 394.5L667.8 405.2L690.2 423.1L706.7 443.5L718.6 467.2" stroke="#1b9e77" stroke-width="1.7" fill="none" stroke-linejoin="round"/>
<path d="M446.5 310.7L494.4 386.1L518.7 361.2L533.0 362.9L557.7 359.4L580.8 365.9L603.6 369.5L628.4 380.0L645.3 389.1L667.5 403.3L684.4 417.4L702.8 437.2L720.0 473.0" stroke="#17becf" stroke-width="1.7" fill="none" stroke-linejoin="round"/>
<path d="M446.5 319.4L485.8 361.7L533.0 358.3L556.7 364.8L575.3 361.4L598.2 370.7L618.6 374.3L639.0 383.9L658.7 397.2L683.8 416.5L702.5 437.0L717.4 461.4" stroke="#1a7f1a" stroke-width="1.9" fill="none" stroke-linejoin="round"/>
<path d="M459.1 342.2L533.0 353.6L567.7 357.1L587.3 367.9L611.2 373.4L632.0 380.8L655.5 392.2L676.8 409.8L695.9 429.4L717.4 463.6" stroke="#2ca02c" stroke-width="1.9" fill="none" stroke-linejoin="round"/>
<path d="M430.2 324.6L457.9 352.9L486.1 341.5L513.8 342.8L541.9 348.7L569.9 353.0L597.8 360.6L625.9 369.6L654.3 382.3L682.1 405.3L710.4 507.2L710.4 623.7" stroke="#000" stroke-width="2.35" fill="none" stroke-linejoin="round"/>
</g>
<path d="M48.50 274.80V268.80M48.50 7.80V13.80" stroke="#000" stroke-width="1.6"/><path d="M89.04 274.80V271.20M89.04 7.80V11.40" stroke="#000" stroke-width="1.25"/><path d="M112.76 274.80V271.20M112.76 7.80V11.40" stroke="#000" stroke-width="1.25"/><path d="M129.58 274.80V271.20M129.58 7.80V11.40" stroke="#000" stroke-width="1.25"/><path d="M142.64 274.80V271.20M142.64 7.80V11.40" stroke="#000" stroke-width="1.25"/><path d="M153.30 274.80V271.20M153.30 7.80V11.40" stroke="#000" stroke-width="1.25"/><path d="M162.32 274.80V271.20M162.32 7.80V11.40" stroke="#000" stroke-width="1.25"/><path d="M170.13 274.80V271.20M170.13 7.80V11.40" stroke="#000" stroke-width="1.25"/><path d="M177.02 274.80V271.20M177.02 7.80V11.40" stroke="#000" stroke-width="1.25"/><path d="M183.18 274.80V268.80M183.18 7.80V13.80" stroke="#000" stroke-width="1.6"/><path d="M223.72 274.80V271.20M223.72 7.80V11.40" stroke="#000" stroke-width="1.25"/><path d="M247.44 274.80V271.20M247.44 7.80V11.40" stroke="#000" stroke-width="1.25"/><path d="M264.26 274.80V271.20M264.26 7.80V11.40" stroke="#000" stroke-width="1.25"/><path d="M277.32 274.80V271.20M277.32 7.80V11.40" stroke="#000" stroke-width="1.25"/><path d="M287.98 274.80V271.20M287.98 7.80V11.40" stroke="#000" stroke-width="1.25"/><path d="M297.00 274.80V271.20M297.00 7.80V11.40" stroke="#000" stroke-width="1.25"/><path d="M304.81 274.80V271.20M304.81 7.80V11.40" stroke="#000" stroke-width="1.25"/><path d="M311.70 274.80V271.20M311.70 7.80V11.40" stroke="#000" stroke-width="1.25"/><path d="M317.86 274.80V268.80M317.86 7.80V13.80" stroke="#000" stroke-width="1.6"/><path d="M358.40 274.80V271.20M358.40 7.80V11.40" stroke="#000" stroke-width="1.25"/><path d="M48.50 274.80H54.50M358.40 274.80H352.40" stroke="#000" stroke-width="1.6"/><path d="M48.50 258.72H52.10M358.40 258.72H354.80" stroke="#000" stroke-width="1.25"/><path d="M48.50 249.32H52.10M358.40 249.32H354.80" stroke="#000" stroke-width="1.25"/><path d="M48.50 242.65H52.10M358.40 242.65H354.80" stroke="#000" stroke-width="1.25"/><path d="M48.50 237.48H52.10M358.40 237.48H354.80" stroke="#000" stroke-width="1.25"/><path d="M48.50 233.25H52.10M358.40 233.25H354.80" stroke="#000" stroke-width="1.25"/><path d="M48.50 229.67H52.10M358.40 229.67H354.80" stroke="#000" stroke-width="1.25"/><path d="M48.50 226.57H52.10M358.40 226.57H354.80" stroke="#000" stroke-width="1.25"/><path d="M48.50 223.84H52.10M358.40 223.84H354.80" stroke="#000" stroke-width="1.25"/><path d="M48.50 221.40H54.50M358.40 221.40H352.40" stroke="#000" stroke-width="1.6"/><path d="M48.50 205.32H52.10M358.40 205.32H354.80" stroke="#000" stroke-width="1.25"/><path d="M48.50 195.92H52.10M358.40 195.92H354.80" stroke="#000" stroke-width="1.25"/><path d="M48.50 189.25H52.10M358.40 189.25H354.80" stroke="#000" stroke-width="1.25"/><path d="M48.50 184.08H52.10M358.40 184.08H354.80" stroke="#000" stroke-width="1.25"/><path d="M48.50 179.85H52.10M358.40 179.85H354.80" stroke="#000" stroke-width="1.25"/><path d="M48.50 176.27H52.10M358.40 176.27H354.80" stroke="#000" stroke-width="1.25"/><path d="M48.50 173.17H52.10M358.40 173.17H354.80" stroke="#000" stroke-width="1.25"/><path d="M48.50 170.44H52.10M358.40 170.44H354.80" stroke="#000" stroke-width="1.25"/><path d="M48.50 168.00H54.50M358.40 168.00H352.40" stroke="#000" stroke-width="1.6"/><path d="M48.50 151.92H52.10M358.40 151.92H354.80" stroke="#000" stroke-width="1.25"/><path d="M48.50 142.52H52.10M358.40 142.52H354.80" stroke="#000" stroke-width="1.25"/><path d="M48.50 135.85H52.10M358.40 135.85H354.80" stroke="#000" stroke-width="1.25"/><path d="M48.50 130.68H52.10M358.40 130.68H354.80" stroke="#000" stroke-width="1.25"/><path d="M48.50 126.45H52.10M358.40 126.45H354.80" stroke="#000" stroke-width="1.25"/><path d="M48.50 122.87H52.10M358.40 122.87H354.80" stroke="#000" stroke-width="1.25"/><path d="M48.50 119.77H52.10M358.40 119.77H354.80" stroke="#000" stroke-width="1.25"/><path d="M48.50 117.04H52.10M358.40 117.04H354.80" stroke="#000" stroke-width="1.25"/><path d="M48.50 114.60H54.50M358.40 114.60H352.40" stroke="#000" stroke-width="1.6"/><path d="M48.50 98.52H52.10M358.40 98.52H354.80" stroke="#000" stroke-width="1.25"/><path d="M48.50 89.12H52.10M358.40 89.12H354.80" stroke="#000" stroke-width="1.25"/><path d="M48.50 82.45H52.10M358.40 82.45H354.80" stroke="#000" stroke-width="1.25"/><path d="M48.50 77.28H52.10M358.40 77.28H354.80" stroke="#000" stroke-width="1.25"/><path d="M48.50 73.05H52.10M358.40 73.05H354.80" stroke="#000" stroke-width="1.25"/><path d="M48.50 69.47H52.10M358.40 69.47H354.80" stroke="#000" stroke-width="1.25"/><path d="M48.50 66.37H52.10M358.40 66.37H354.80" stroke="#000" stroke-width="1.25"/><path d="M48.50 63.64H52.10M358.40 63.64H354.80" stroke="#000" stroke-width="1.25"/><path d="M48.50 61.20H54.50M358.40 61.20H352.40" stroke="#000" stroke-width="1.6"/><path d="M48.50 45.12H52.10M358.40 45.12H354.80" stroke="#000" stroke-width="1.25"/><path d="M48.50 35.72H52.10M358.40 35.72H354.80" stroke="#000" stroke-width="1.25"/><path d="M48.50 29.05H52.10M358.40 29.05H354.80" stroke="#000" stroke-width="1.25"/><path d="M48.50 23.88H52.10M358.40 23.88H354.80" stroke="#000" stroke-width="1.25"/><path d="M48.50 19.65H52.10M358.40 19.65H354.80" stroke="#000" stroke-width="1.25"/><path d="M48.50 16.07H52.10M358.40 16.07H354.80" stroke="#000" stroke-width="1.25"/><path d="M48.50 12.97H52.10M358.40 12.97H354.80" stroke="#000" stroke-width="1.25"/><path d="M48.50 10.24H52.10M358.40 10.24H354.80" stroke="#000" stroke-width="1.25"/><path d="M48.50 7.80H54.50M358.40 7.80H352.40" stroke="#000" stroke-width="1.6"/>
<rect x="48.50" y="7.80" width="309.90" height="267.00" fill="none" stroke="#000" stroke-width="2.1"/>
<path d="M433.00 274.80V271.20M433.00 7.80V11.40" stroke="#000" stroke-width="1.25"/><path d="M438.14 274.80V271.20M438.14 7.80V11.40" stroke="#000" stroke-width="1.25"/><path d="M442.48 274.80V271.20M442.48 7.80V11.40" stroke="#000" stroke-width="1.25"/><path d="M446.24 274.80V271.20M446.24 7.80V11.40" stroke="#000" stroke-width="1.25"/><path d="M449.56 274.80V271.20M449.56 7.80V11.40" stroke="#000" stroke-width="1.25"/><path d="M452.53 274.80V268.80M452.53 7.80V13.80" stroke="#000" stroke-width="1.6"/><path d="M472.06 274.80V271.20M472.06 7.80V11.40" stroke="#000" stroke-width="1.25"/><path d="M483.49 274.80V271.20M483.49 7.80V11.40" stroke="#000" stroke-width="1.25"/><path d="M491.59 274.80V271.20M491.59 7.80V11.40" stroke="#000" stroke-width="1.25"/><path d="M497.88 274.80V271.20M497.88 7.80V11.40" stroke="#000" stroke-width="1.25"/><path d="M503.02 274.80V271.20M503.02 7.80V11.40" stroke="#000" stroke-width="1.25"/><path d="M507.36 274.80V271.20M507.36 7.80V11.40" stroke="#000" stroke-width="1.25"/><path d="M511.12 274.80V271.20M511.12 7.80V11.40" stroke="#000" stroke-width="1.25"/><path d="M514.44 274.80V271.20M514.44 7.80V11.40" stroke="#000" stroke-width="1.25"/><path d="M517.41 274.80V268.80M517.41 7.80V13.80" stroke="#000" stroke-width="1.6"/><path d="M536.94 274.80V271.20M536.94 7.80V11.40" stroke="#000" stroke-width="1.25"/><path d="M548.36 274.80V271.20M548.36 7.80V11.40" stroke="#000" stroke-width="1.25"/><path d="M556.47 274.80V271.20M556.47 7.80V11.40" stroke="#000" stroke-width="1.25"/><path d="M562.76 274.80V271.20M562.76 7.80V11.40" stroke="#000" stroke-width="1.25"/><path d="M567.89 274.80V271.20M567.89 7.80V11.40" stroke="#000" stroke-width="1.25"/><path d="M572.24 274.80V271.20M572.24 7.80V11.40" stroke="#000" stroke-width="1.25"/><path d="M576.00 274.80V271.20M576.00 7.80V11.40" stroke="#000" stroke-width="1.25"/><path d="M579.32 274.80V271.20M579.32 7.80V11.40" stroke="#000" stroke-width="1.25"/><path d="M582.29 274.80V268.80M582.29 7.80V13.80" stroke="#000" stroke-width="1.6"/><path d="M601.82 274.80V271.20M601.82 7.80V11.40" stroke="#000" stroke-width="1.25"/><path d="M613.24 274.80V271.20M613.24 7.80V11.40" stroke="#000" stroke-width="1.25"/><path d="M621.35 274.80V271.20M621.35 7.80V11.40" stroke="#000" stroke-width="1.25"/><path d="M627.64 274.80V271.20M627.64 7.80V11.40" stroke="#000" stroke-width="1.25"/><path d="M632.77 274.80V271.20M632.77 7.80V11.40" stroke="#000" stroke-width="1.25"/><path d="M637.12 274.80V271.20M637.12 7.80V11.40" stroke="#000" stroke-width="1.25"/><path d="M640.88 274.80V271.20M640.88 7.80V11.40" stroke="#000" stroke-width="1.25"/><path d="M644.20 274.80V271.20M644.20 7.80V11.40" stroke="#000" stroke-width="1.25"/><path d="M647.17 274.80V268.80M647.17 7.80V13.80" stroke="#000" stroke-width="1.6"/><path d="M666.70 274.80V271.20M666.70 7.80V11.40" stroke="#000" stroke-width="1.25"/><path d="M678.12 274.80V271.20M678.12 7.80V11.40" stroke="#000" stroke-width="1.25"/><path d="M686.23 274.80V271.20M686.23 7.80V11.40" stroke="#000" stroke-width="1.25"/><path d="M692.51 274.80V271.20M692.51 7.80V11.40" stroke="#000" stroke-width="1.25"/><path d="M697.65 274.80V271.20M697.65 7.80V11.40" stroke="#000" stroke-width="1.25"/><path d="M702.00 274.80V271.20M702.00 7.80V11.40" stroke="#000" stroke-width="1.25"/><path d="M705.76 274.80V271.20M705.76 7.80V11.40" stroke="#000" stroke-width="1.25"/><path d="M709.08 274.80V271.20M709.08 7.80V11.40" stroke="#000" stroke-width="1.25"/><path d="M712.05 274.80V268.80M712.05 7.80V13.80" stroke="#000" stroke-width="1.6"/><path d="M731.58 274.80V271.20M731.58 7.80V11.40" stroke="#000" stroke-width="1.25"/><path d="M743.00 274.80V271.20M743.00 7.80V11.40" stroke="#000" stroke-width="1.25"/><path d="M433.00 274.80H439.00M743.00 274.80H737.00" stroke="#000" stroke-width="1.6"/><path d="M433.00 265.87H436.60M743.00 265.87H739.40" stroke="#000" stroke-width="1.25"/><path d="M433.00 256.94H436.60M743.00 256.94H739.40" stroke="#000" stroke-width="1.25"/><path d="M433.00 251.71H436.60M743.00 251.71H739.40" stroke="#000" stroke-width="1.25"/><path d="M433.00 248.01H436.60M743.00 248.01H739.40" stroke="#000" stroke-width="1.25"/><path d="M433.00 245.13H439.00M743.00 245.13H737.00" stroke="#000" stroke-width="1.6"/><path d="M433.00 236.20H436.60M743.00 236.20H739.40" stroke="#000" stroke-width="1.25"/><path d="M433.00 227.27H436.60M743.00 227.27H739.40" stroke="#000" stroke-width="1.25"/><path d="M433.00 222.05H436.60M743.00 222.05H739.40" stroke="#000" stroke-width="1.25"/><path d="M433.00 218.34H436.60M743.00 218.34H739.40" stroke="#000" stroke-width="1.25"/><path d="M433.00 215.47H439.00M743.00 215.47H737.00" stroke="#000" stroke-width="1.6"/><path d="M433.00 206.54H436.60M743.00 206.54H739.40" stroke="#000" stroke-width="1.25"/><path d="M433.00 197.61H436.60M743.00 197.61H739.40" stroke="#000" stroke-width="1.25"/><path d="M433.00 192.38H436.60M743.00 192.38H739.40" stroke="#000" stroke-width="1.25"/><path d="M433.00 188.67H436.60M743.00 188.67H739.40" stroke="#000" stroke-width="1.25"/><path d="M433.00 185.80H439.00M743.00 185.80H737.00" stroke="#000" stroke-width="1.6"/><path d="M433.00 176.87H436.60M743.00 176.87H739.40" stroke="#000" stroke-width="1.25"/><path d="M433.00 167.94H436.60M743.00 167.94H739.40" stroke="#000" stroke-width="1.25"/><path d="M433.00 162.71H436.60M743.00 162.71H739.40" stroke="#000" stroke-width="1.25"/><path d="M433.00 159.01H436.60M743.00 159.01H739.40" stroke="#000" stroke-width="1.25"/><path d="M433.00 156.13H439.00M743.00 156.13H737.00" stroke="#000" stroke-width="1.6"/><path d="M433.00 147.20H436.60M743.00 147.20H739.40" stroke="#000" stroke-width="1.25"/><path d="M433.00 138.27H436.60M743.00 138.27H739.40" stroke="#000" stroke-width="1.25"/><path d="M433.00 133.05H436.60M743.00 133.05H739.40" stroke="#000" stroke-width="1.25"/><path d="M433.00 129.34H436.60M743.00 129.34H739.40" stroke="#000" stroke-width="1.25"/><path d="M433.00 126.47H439.00M743.00 126.47H737.00" stroke="#000" stroke-width="1.6"/><path d="M433.00 117.54H436.60M743.00 117.54H739.40" stroke="#000" stroke-width="1.25"/><path d="M433.00 108.61H436.60M743.00 108.61H739.40" stroke="#000" stroke-width="1.25"/><path d="M433.00 103.38H436.60M743.00 103.38H739.40" stroke="#000" stroke-width="1.25"/><path d="M433.00 99.67H436.60M743.00 99.67H739.40" stroke="#000" stroke-width="1.25"/><path d="M433.00 96.80H439.00M743.00 96.80H737.00" stroke="#000" stroke-width="1.6"/><path d="M433.00 87.87H436.60M743.00 87.87H739.40" stroke="#000" stroke-width="1.25"/><path d="M433.00 78.94H436.60M743.00 78.94H739.40" stroke="#000" stroke-width="1.25"/><path d="M433.00 73.71H436.60M743.00 73.71H739.40" stroke="#000" stroke-width="1.25"/><path d="M433.00 70.01H436.60M743.00 70.01H739.40" stroke="#000" stroke-width="1.25"/><path d="M433.00 67.13H439.00M743.00 67.13H737.00" stroke="#000" stroke-width="1.6"/><path d="M433.00 58.20H436.60M743.00 58.20H739.40" stroke="#000" stroke-width="1.25"/><path d="M433.00 49.27H436.60M743.00 49.27H739.40" stroke="#000" stroke-width="1.25"/><path d="M433.00 44.05H436.60M743.00 44.05H739.40" stroke="#000" stroke-width="1.25"/><path d="M433.00 40.34H436.60M743.00 40.34H739.40" stroke="#000" stroke-width="1.25"/><path d="M433.00 37.47H439.00M743.00 37.47H737.00" stroke="#000" stroke-width="1.6"/><path d="M433.00 28.54H436.60M743.00 28.54H739.40" stroke="#000" stroke-width="1.25"/><path d="M433.00 19.61H436.60M743.00 19.61H739.40" stroke="#000" stroke-width="1.25"/><path d="M433.00 14.38H436.60M743.00 14.38H739.40" stroke="#000" stroke-width="1.25"/><path d="M433.00 10.67H436.60M743.00 10.67H739.40" stroke="#000" stroke-width="1.25"/><path d="M433.00 7.80H439.00M743.00 7.80H737.00" stroke="#000" stroke-width="1.6"/>
<rect x="433.00" y="7.80" width="310.00" height="267.00" fill="none" stroke="#000" stroke-width="2.1"/>
<path d="M48.50 594.60V588.60M48.50 328.10V334.10" stroke="#000" stroke-width="1.6"/><path d="M95.13 594.60V591.00M95.13 328.10V331.70" stroke="#000" stroke-width="1.25"/><path d="M122.41 594.60V591.00M122.41 328.10V331.70" stroke="#000" stroke-width="1.25"/><path d="M141.76 594.60V591.00M141.76 328.10V331.70" stroke="#000" stroke-width="1.25"/><path d="M156.77 594.60V591.00M156.77 328.10V331.70" stroke="#000" stroke-width="1.25"/><path d="M169.04 594.60V591.00M169.04 328.10V331.70" stroke="#000" stroke-width="1.25"/><path d="M179.41 594.60V591.00M179.41 328.10V331.70" stroke="#000" stroke-width="1.25"/><path d="M188.39 594.60V591.00M188.39 328.10V331.70" stroke="#000" stroke-width="1.25"/><path d="M196.31 594.60V591.00M196.31 328.10V331.70" stroke="#000" stroke-width="1.25"/><path d="M203.40 594.60V588.60M203.40 328.10V334.10" stroke="#000" stroke-width="1.6"/><path d="M250.03 594.60V591.00M250.03 328.10V331.70" stroke="#000" stroke-width="1.25"/><path d="M277.31 594.60V591.00M277.31 328.10V331.70" stroke="#000" stroke-width="1.25"/><path d="M296.66 594.60V591.00M296.66 328.10V331.70" stroke="#000" stroke-width="1.25"/><path d="M311.67 594.60V591.00M311.67 328.10V331.70" stroke="#000" stroke-width="1.25"/><path d="M323.94 594.60V591.00M323.94 328.10V331.70" stroke="#000" stroke-width="1.25"/><path d="M334.31 594.60V591.00M334.31 328.10V331.70" stroke="#000" stroke-width="1.25"/><path d="M343.29 594.60V591.00M343.29 328.10V331.70" stroke="#000" stroke-width="1.25"/><path d="M351.21 594.60V591.00M351.21 328.10V331.70" stroke="#000" stroke-width="1.25"/><path d="M358.30 594.60V588.60M358.30 328.10V334.10" stroke="#000" stroke-width="1.6"/><path d="M48.50 594.60H54.50M358.30 594.60H352.30" stroke="#000" stroke-width="1.6"/><path d="M48.50 578.56H52.10M358.30 578.56H354.70" stroke="#000" stroke-width="1.25"/><path d="M48.50 569.17H52.10M358.30 569.17H354.70" stroke="#000" stroke-width="1.25"/><path d="M48.50 562.51H52.10M358.30 562.51H354.70" stroke="#000" stroke-width="1.25"/><path d="M48.50 557.34H52.10M358.30 557.34H354.70" stroke="#000" stroke-width="1.25"/><path d="M48.50 553.12H52.10M358.30 553.12H354.70" stroke="#000" stroke-width="1.25"/><path d="M48.50 549.56H52.10M358.30 549.56H354.70" stroke="#000" stroke-width="1.25"/><path d="M48.50 546.47H52.10M358.30 546.47H354.70" stroke="#000" stroke-width="1.25"/><path d="M48.50 543.74H52.10M358.30 543.74H354.70" stroke="#000" stroke-width="1.25"/><path d="M48.50 541.30H54.50M358.30 541.30H352.30" stroke="#000" stroke-width="1.6"/><path d="M48.50 525.26H52.10M358.30 525.26H354.70" stroke="#000" stroke-width="1.25"/><path d="M48.50 515.87H52.10M358.30 515.87H354.70" stroke="#000" stroke-width="1.25"/><path d="M48.50 509.21H52.10M358.30 509.21H354.70" stroke="#000" stroke-width="1.25"/><path d="M48.50 504.04H52.10M358.30 504.04H354.70" stroke="#000" stroke-width="1.25"/><path d="M48.50 499.82H52.10M358.30 499.82H354.70" stroke="#000" stroke-width="1.25"/><path d="M48.50 496.26H52.10M358.30 496.26H354.70" stroke="#000" stroke-width="1.25"/><path d="M48.50 493.17H52.10M358.30 493.17H354.70" stroke="#000" stroke-width="1.25"/><path d="M48.50 490.44H52.10M358.30 490.44H354.70" stroke="#000" stroke-width="1.25"/><path d="M48.50 488.00H54.50M358.30 488.00H352.30" stroke="#000" stroke-width="1.6"/><path d="M48.50 471.96H52.10M358.30 471.96H354.70" stroke="#000" stroke-width="1.25"/><path d="M48.50 462.57H52.10M358.30 462.57H354.70" stroke="#000" stroke-width="1.25"/><path d="M48.50 455.91H52.10M358.30 455.91H354.70" stroke="#000" stroke-width="1.25"/><path d="M48.50 450.74H52.10M358.30 450.74H354.70" stroke="#000" stroke-width="1.25"/><path d="M48.50 446.52H52.10M358.30 446.52H354.70" stroke="#000" stroke-width="1.25"/><path d="M48.50 442.96H52.10M358.30 442.96H354.70" stroke="#000" stroke-width="1.25"/><path d="M48.50 439.87H52.10M358.30 439.87H354.70" stroke="#000" stroke-width="1.25"/><path d="M48.50 437.14H52.10M358.30 437.14H354.70" stroke="#000" stroke-width="1.25"/><path d="M48.50 434.70H54.50M358.30 434.70H352.30" stroke="#000" stroke-width="1.6"/><path d="M48.50 418.66H52.10M358.30 418.66H354.70" stroke="#000" stroke-width="1.25"/><path d="M48.50 409.27H52.10M358.30 409.27H354.70" stroke="#000" stroke-width="1.25"/><path d="M48.50 402.61H52.10M358.30 402.61H354.70" stroke="#000" stroke-width="1.25"/><path d="M48.50 397.44H52.10M358.30 397.44H354.70" stroke="#000" stroke-width="1.25"/><path d="M48.50 393.22H52.10M358.30 393.22H354.70" stroke="#000" stroke-width="1.25"/><path d="M48.50 389.66H52.10M358.30 389.66H354.70" stroke="#000" stroke-width="1.25"/><path d="M48.50 386.57H52.10M358.30 386.57H354.70" stroke="#000" stroke-width="1.25"/><path d="M48.50 383.84H52.10M358.30 383.84H354.70" stroke="#000" stroke-width="1.25"/><path d="M48.50 381.40H54.50M358.30 381.40H352.30" stroke="#000" stroke-width="1.6"/><path d="M48.50 365.36H52.10M358.30 365.36H354.70" stroke="#000" stroke-width="1.25"/><path d="M48.50 355.97H52.10M358.30 355.97H354.70" stroke="#000" stroke-width="1.25"/><path d="M48.50 349.31H52.10M358.30 349.31H354.70" stroke="#000" stroke-width="1.25"/><path d="M48.50 344.14H52.10M358.30 344.14H354.70" stroke="#000" stroke-width="1.25"/><path d="M48.50 339.92H52.10M358.30 339.92H354.70" stroke="#000" stroke-width="1.25"/><path d="M48.50 336.36H52.10M358.30 336.36H354.70" stroke="#000" stroke-width="1.25"/><path d="M48.50 333.27H52.10M358.30 333.27H354.70" stroke="#000" stroke-width="1.25"/><path d="M48.50 330.54H52.10M358.30 330.54H354.70" stroke="#000" stroke-width="1.25"/><path d="M48.50 328.10H54.50M358.30 328.10H352.30" stroke="#000" stroke-width="1.6"/>
<rect x="48.50" y="328.10" width="309.80" height="266.50" fill="none" stroke="#000" stroke-width="2.1"/>
<path d="M433.00 594.70V588.70M433.00 328.00V334.00" stroke="#000" stroke-width="1.6"/><path d="M473.56 594.70V591.10M473.56 328.00V331.60" stroke="#000" stroke-width="1.25"/><path d="M497.28 594.70V591.10M497.28 328.00V331.60" stroke="#000" stroke-width="1.25"/><path d="M514.11 594.70V591.10M514.11 328.00V331.60" stroke="#000" stroke-width="1.25"/><path d="M527.17 594.70V591.10M527.17 328.00V331.60" stroke="#000" stroke-width="1.25"/><path d="M537.83 594.70V591.10M537.83 328.00V331.60" stroke="#000" stroke-width="1.25"/><path d="M546.85 594.70V591.10M546.85 328.00V331.60" stroke="#000" stroke-width="1.25"/><path d="M554.67 594.70V591.10M554.67 328.00V331.60" stroke="#000" stroke-width="1.25"/><path d="M561.56 594.70V591.10M561.56 328.00V331.60" stroke="#000" stroke-width="1.25"/><path d="M567.72 594.70V588.70M567.72 328.00V334.00" stroke="#000" stroke-width="1.6"/><path d="M608.28 594.70V591.10M608.28 328.00V331.60" stroke="#000" stroke-width="1.25"/><path d="M632.00 594.70V591.10M632.00 328.00V331.60" stroke="#000" stroke-width="1.25"/><path d="M648.83 594.70V591.10M648.83 328.00V331.60" stroke="#000" stroke-width="1.25"/><path d="M661.89 594.70V591.10M661.89 328.00V331.60" stroke="#000" stroke-width="1.25"/><path d="M672.56 594.70V591.10M672.56 328.00V331.60" stroke="#000" stroke-width="1.25"/><path d="M681.58 594.70V591.10M681.58 328.00V331.60" stroke="#000" stroke-width="1.25"/><path d="M689.39 594.70V591.10M689.39 328.00V331.60" stroke="#000" stroke-width="1.25"/><path d="M696.28 594.70V591.10M696.28 328.00V331.60" stroke="#000" stroke-width="1.25"/><path d="M702.44 594.70V588.70M702.44 328.00V334.00" stroke="#000" stroke-width="1.6"/><path d="M743.00 594.70V591.10M743.00 328.00V331.60" stroke="#000" stroke-width="1.25"/><path d="M433.00 594.70H439.00M743.00 594.70H737.00" stroke="#000" stroke-width="1.6"/><path d="M433.00 577.25H436.60M743.00 577.25H739.40" stroke="#000" stroke-width="1.25"/><path d="M433.00 567.05H436.60M743.00 567.05H739.40" stroke="#000" stroke-width="1.25"/><path d="M433.00 559.81H436.60M743.00 559.81H739.40" stroke="#000" stroke-width="1.25"/><path d="M433.00 554.19H436.60M743.00 554.19H739.40" stroke="#000" stroke-width="1.25"/><path d="M433.00 549.60H436.60M743.00 549.60H739.40" stroke="#000" stroke-width="1.25"/><path d="M433.00 545.72H436.60M743.00 545.72H739.40" stroke="#000" stroke-width="1.25"/><path d="M433.00 542.36H436.60M743.00 542.36H739.40" stroke="#000" stroke-width="1.25"/><path d="M433.00 539.40H436.60M743.00 539.40H739.40" stroke="#000" stroke-width="1.25"/><path d="M433.00 536.75H439.00M743.00 536.75H737.00" stroke="#000" stroke-width="1.6"/><path d="M433.00 519.30H436.60M743.00 519.30H739.40" stroke="#000" stroke-width="1.25"/><path d="M433.00 509.10H436.60M743.00 509.10H739.40" stroke="#000" stroke-width="1.25"/><path d="M433.00 501.86H436.60M743.00 501.86H739.40" stroke="#000" stroke-width="1.25"/><path d="M433.00 496.24H436.60M743.00 496.24H739.40" stroke="#000" stroke-width="1.25"/><path d="M433.00 491.65H436.60M743.00 491.65H739.40" stroke="#000" stroke-width="1.25"/><path d="M433.00 487.77H436.60M743.00 487.77H739.40" stroke="#000" stroke-width="1.25"/><path d="M433.00 484.41H436.60M743.00 484.41H739.40" stroke="#000" stroke-width="1.25"/><path d="M433.00 481.45H436.60M743.00 481.45H739.40" stroke="#000" stroke-width="1.25"/><path d="M433.00 478.80H439.00M743.00 478.80H737.00" stroke="#000" stroke-width="1.6"/><path d="M433.00 461.35H436.60M743.00 461.35H739.40" stroke="#000" stroke-width="1.25"/><path d="M433.00 451.15H436.60M743.00 451.15H739.40" stroke="#000" stroke-width="1.25"/><path d="M433.00 443.90H436.60M743.00 443.90H739.40" stroke="#000" stroke-width="1.25"/><path d="M433.00 438.29H436.60M743.00 438.29H739.40" stroke="#000" stroke-width="1.25"/><path d="M433.00 433.70H436.60M743.00 433.70H739.40" stroke="#000" stroke-width="1.25"/><path d="M433.00 429.82H436.60M743.00 429.82H739.40" stroke="#000" stroke-width="1.25"/><path d="M433.00 426.46H436.60M743.00 426.46H739.40" stroke="#000" stroke-width="1.25"/><path d="M433.00 423.49H436.60M743.00 423.49H739.40" stroke="#000" stroke-width="1.25"/><path d="M433.00 420.84H439.00M743.00 420.84H737.00" stroke="#000" stroke-width="1.6"/><path d="M433.00 403.40H436.60M743.00 403.40H739.40" stroke="#000" stroke-width="1.25"/><path d="M433.00 393.19H436.60M743.00 393.19H739.40" stroke="#000" stroke-width="1.25"/><path d="M433.00 385.95H436.60M743.00 385.95H739.40" stroke="#000" stroke-width="1.25"/><path d="M433.00 380.34H436.60M743.00 380.34H739.40" stroke="#000" stroke-width="1.25"/><path d="M433.00 375.75H436.60M743.00 375.75H739.40" stroke="#000" stroke-width="1.25"/><path d="M433.00 371.87H436.60M743.00 371.87H739.40" stroke="#000" stroke-width="1.25"/><path d="M433.00 368.51H436.60M743.00 368.51H739.40" stroke="#000" stroke-width="1.25"/><path d="M433.00 365.54H436.60M743.00 365.54H739.40" stroke="#000" stroke-width="1.25"/><path d="M433.00 362.89H439.00M743.00 362.89H737.00" stroke="#000" stroke-width="1.6"/><path d="M433.00 345.45H436.60M743.00 345.45H739.40" stroke="#000" stroke-width="1.25"/><path d="M433.00 335.24H436.60M743.00 335.24H739.40" stroke="#000" stroke-width="1.25"/><path d="M433.00 328.00H436.60M743.00 328.00H739.40" stroke="#000" stroke-width="1.25"/>
<rect x="433.00" y="328.00" width="310.00" height="266.70" fill="none" stroke="#000" stroke-width="2.1"/>
<text class="tk" x="41.0" y="278.4" text-anchor="end">10<tspan class="sup" dy="-5.6">0</tspan></text>
<text class="tk" x="41.0" y="225.0" text-anchor="end">10<tspan class="sup" dy="-5.6">1</tspan></text>
<text class="tk" x="41.0" y="171.6" text-anchor="end">10<tspan class="sup" dy="-5.6">2</tspan></text>
<text class="tk" x="41.0" y="118.2" text-anchor="end">10<tspan class="sup" dy="-5.6">3</tspan></text>
<text class="tk" x="41.0" y="64.8" text-anchor="end">10<tspan class="sup" dy="-5.6">4</tspan></text>
<text class="tk" x="41.0" y="11.4" text-anchor="end">10<tspan class="sup" dy="-5.6">5</tspan></text>
<text class="tk" x="47.7" y="290.3" text-anchor="middle">10<tspan class="sup" dy="-6.2">0</tspan></text>
<text class="tk" x="182.4" y="290.3" text-anchor="middle">10<tspan class="sup" dy="-6.2">1</tspan></text>
<text class="tk" x="317.1" y="290.3" text-anchor="middle">10<tspan class="sup" dy="-6.2">2</tspan></text>
<text class="tk" x="425.5" y="278.4" text-anchor="end">10<tspan class="sup" dy="-5.6">-10</tspan></text>
<text class="tk" x="425.5" y="248.7" text-anchor="end">10<tspan class="sup" dy="-5.6">-9</tspan></text>
<text class="tk" x="425.5" y="219.1" text-anchor="end">10<tspan class="sup" dy="-5.6">-8</tspan></text>
<text class="tk" x="425.5" y="189.4" text-anchor="end">10<tspan class="sup" dy="-5.6">-7</tspan></text>
<text class="tk" x="425.5" y="159.7" text-anchor="end">10<tspan class="sup" dy="-5.6">-6</tspan></text>
<text class="tk" x="425.5" y="130.1" text-anchor="end">10<tspan class="sup" dy="-5.6">-5</tspan></text>
<text class="tk" x="425.5" y="100.4" text-anchor="end">10<tspan class="sup" dy="-5.6">-4</tspan></text>
<text class="tk" x="425.5" y="70.7" text-anchor="end">10<tspan class="sup" dy="-5.6">-3</tspan></text>
<text class="tk" x="425.5" y="41.1" text-anchor="end">10<tspan class="sup" dy="-5.6">-2</tspan></text>
<text class="tk" x="425.5" y="11.4" text-anchor="end">10<tspan class="sup" dy="-5.6">-1</tspan></text>
<text class="tk" x="451.7" y="290.3" text-anchor="middle">10<tspan class="sup" dy="-6.2">6</tspan></text>
<text class="tk" x="516.6" y="290.3" text-anchor="middle">10<tspan class="sup" dy="-6.2">7</tspan></text>
<text class="tk" x="581.5" y="290.3" text-anchor="middle">10<tspan class="sup" dy="-6.2">8</tspan></text>
<text class="tk" x="646.4" y="290.3" text-anchor="middle">10<tspan class="sup" dy="-6.2">9</tspan></text>
<text class="tk" x="711.2" y="290.3" text-anchor="middle">10<tspan class="sup" dy="-6.2">10</tspan></text>
<text class="tk" x="41.0" y="598.2" text-anchor="end">10<tspan class="sup" dy="-5.6">-5</tspan></text>
<text class="tk" x="41.0" y="544.9" text-anchor="end">10<tspan class="sup" dy="-5.6">-4</tspan></text>
<text class="tk" x="41.0" y="491.6" text-anchor="end">10<tspan class="sup" dy="-5.6">-3</tspan></text>
<text class="tk" x="41.0" y="438.3" text-anchor="end">10<tspan class="sup" dy="-5.6">-2</tspan></text>
<text class="tk" x="41.0" y="385.0" text-anchor="end">10<tspan class="sup" dy="-5.6">-1</tspan></text>
<text class="tk" x="41.0" y="331.7" text-anchor="end">10<tspan class="sup" dy="-5.6">0</tspan></text>
<text class="tk" x="47.7" y="610.1" text-anchor="middle">10<tspan class="sup" dy="-6.2">-2</tspan></text>
<text class="tk" x="202.6" y="610.1" text-anchor="middle">10<tspan class="sup" dy="-6.2">-1</tspan></text>
<text class="tk" x="357.5" y="610.1" text-anchor="middle">10<tspan class="sup" dy="-6.2">0</tspan></text>
<text class="tk" x="425.5" y="598.3" text-anchor="end">10<tspan class="sup" dy="-5.6">-3</tspan></text>
<text class="tk" x="425.5" y="540.3" text-anchor="end">10<tspan class="sup" dy="-5.6">-2</tspan></text>
<text class="tk" x="425.5" y="482.4" text-anchor="end">10<tspan class="sup" dy="-5.6">-1</tspan></text>
<text class="tk" x="425.5" y="424.4" text-anchor="end">10<tspan class="sup" dy="-5.6">0</tspan></text>
<text class="tk" x="425.5" y="366.5" text-anchor="end">10<tspan class="sup" dy="-5.6">1</tspan></text>
<text class="tk" x="432.2" y="610.2" text-anchor="middle">10<tspan class="sup" dy="-6.2">-2</tspan></text>
<text class="tk" x="566.9" y="610.2" text-anchor="middle">10<tspan class="sup" dy="-6.2">-1</tspan></text>
<text class="tk" x="701.6" y="610.2" text-anchor="middle">10<tspan class="sup" dy="-6.2">0</tspan></text>
<text class="lab" x="165.8" y="305.5" textLength="74" lengthAdjust="spacing">V<tspan class="sub" dy="3.2">max</tspan><tspan dy="-3.2"> (km/s)</tspan></text>
<text class="lab" x="555.3" y="306" textLength="64.5" lengthAdjust="spacing">M<tspan class="sub" dy="3.2">sub</tspan><tspan dy="-3.2"> (M</tspan><tspan class="sub" dy="3.2">&#x2299;</tspan><tspan dy="-3.2">)</tspan></text>
<text class="lab" x="186.2" y="625" textLength="34.8" lengthAdjust="spacing">r/R<tspan class="sub" dy="3.2">vir</tspan></text>
<text class="lab" x="570.9" y="625" textLength="35" lengthAdjust="spacing">r/R<tspan class="sub" dy="3.2">vir</tspan></text>
<text class="lab" transform="translate(15,173.4) rotate(-90)" textLength="64.5" lengthAdjust="spacing">N(&#x2009;<tspan style="font-size:17px">&gt;</tspan>&#x2009;V<tspan class="sub" dy="3.2">max</tspan><tspan dy="-3.2">)</tspan></text>
<text class="lab" transform="translate(391.2,192.9) rotate(-90)" textLength="102" lengthAdjust="spacing">dN/dM<tspan class="sub" dy="3.2">sub</tspan><tspan dy="-3.2"> (M</tspan><tspan class="sub" dy="-7.4">&#x2212;1</tspan><tspan class="sub" dx="-11" dy="10.6">&#x2299;</tspan><tspan dy="-3.2">)</tspan></text>
<text class="lab" transform="translate(11.2,477.9) rotate(-90)" textLength="34" lengthAdjust="spacing">f<tspan class="sub" dy="3.2">m,subs</tspan></text>
<text class="lab" transform="translate(397,494.5) rotate(-90)" textLength="66.2" lengthAdjust="spacing">n(r)/ <tspan style="font-size:18px">&lt;</tspan> n <tspan style="font-size:18px">&gt;</tspan></text>
<text class="pl" x="316.6" y="39.8" textLength="21.5" lengthAdjust="spacingAndGlyphs">(a)</text>
<text class="pl" x="700.8" y="39.8" textLength="22.5" lengthAdjust="spacingAndGlyphs">(b)</text>
<text class="pl" x="316.2" y="359.8" textLength="21" lengthAdjust="spacingAndGlyphs">(c)</text>
<text class="pl" x="700" y="359.8" textLength="23.5" lengthAdjust="spacingAndGlyphs">(d)</text>
<path d="M69.7 249.5H88.7" stroke="#000" stroke-width="2.4"/>
<text class="lg" x="101.7" y="254.1">Aq&#x2212;A2</text>
<path d="M454.5 249.5H473.5" stroke="#000" stroke-width="2.4"/>
<text class="lg" x="486.5" y="254.1">Aq&#x2212;A2</text>
<path d="M267.6 569.8H286.6" stroke="#000" stroke-width="2.4"/>
<text class="lg" x="299.6" y="574.4">Aq&#x2212;A2</text>
<path d="M454.5 569.5H473.5" stroke="#000" stroke-width="2.4"/>
<text class="lg" x="486.5" y="574.1">Aq&#x2212;A2</text>
</svg></body></html>
